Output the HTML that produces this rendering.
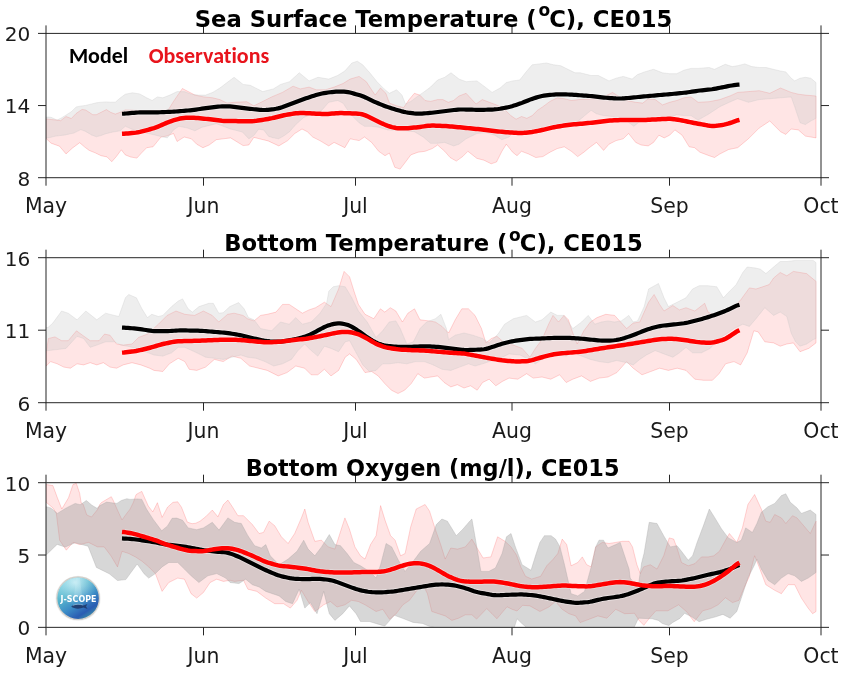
<!DOCTYPE html>
<html><head><meta charset="utf-8"><style>
html,body{margin:0;padding:0;background:#fff;}
svg{display:block;will-change:transform;}
text{font-family:"DejaVu Sans","Liberation Sans",sans-serif;}
</style></head><body>
<svg width="844" height="673" viewBox="0 0 844 673">
<rect width="844" height="673" fill="#fff"/>
<defs><clipPath id="c33"><rect x="46.0" y="33.4" width="775.0" height="144.29999999999998"/></clipPath></defs>
<g clip-path="url(#c33)">
<polygon points="46.0,118.9 46.1,118.9 51.1,119.5 57.1,120.1 60.6,120.7 66.0,116.5 71.3,118.5 76.1,113.5 82.0,109.4 85.6,110.0 89.2,112.3 92.7,114.7 96.3,114.7 101.1,112.3 106.4,109.6 110.6,112.3 115.3,114.1 120.1,112.3 125.3,109.9 137.8,110.5 155.7,110.5 168.1,110.1 173.5,101.4 182.4,88.5 194.9,95.1 203.8,96.9 212.7,97.8 219.9,99.6 227.0,103.1 234.1,102.3 246.7,101.7 253.8,105.8 261.0,102.3 271.7,96.9 282.4,92.4 293.1,86.2 300.2,88.9 309.1,87.1 316.2,89.8 325.2,89.8 334.1,87.1 343.0,83.5 350.1,79.1 359.1,76.4 366.3,81.7 371.6,89.8 375.2,95.1 380.5,88.0 385.9,93.3 389.4,103.1 396.6,105.8 403.7,107.6 409.1,99.6 414.4,93.3 419.8,95.1 425.1,100.5 430.5,101.4 437.6,99.6 442.9,99.6 448.3,102.3 453.6,100.5 459.0,96.0 466.1,93.3 476.0,104.0 482.3,99.6 489.4,102.3 496.5,104.9 503.7,108.5 510.8,115.6 516.1,119.2 521.5,116.5 526.8,118.3 532.2,115.6 537.5,110.3 542.9,106.7 550.0,101.4 557.2,97.8 564.3,98.7 571.4,100.5 578.6,99.6 594.7,98.7 605.4,96.0 612.5,92.4 619.7,96.9 626.8,100.5 635.7,102.3 642.8,103.1 648.2,98.7 655.3,99.6 662.5,104.9 669.6,102.3 676.7,100.5 683.9,97.8 691.0,96.9 698.1,102.3 709.1,101.7 719.8,99.6 730.5,95.7 737.7,92.4 748.4,91.6 759.1,90.7 769.8,93.3 780.5,88.0 791.2,92.4 798.3,94.2 805.4,95.1 816.0,96.0 816.0,137.9 805.4,136.1 798.3,129.9 791.2,129.0 785.8,134.4 780.5,131.7 769.8,121.0 759.1,128.1 748.4,138.8 737.7,147.7 728.7,149.5 719.8,154.0 714.5,157.5 709.1,155.7 699.9,152.2 694.6,147.7 689.2,146.8 682.1,135.2 674.9,129.9 669.6,135.2 664.2,137.9 658.9,135.2 653.5,142.4 648.2,145.9 641.1,145.0 635.7,142.4 628.6,133.5 623.2,138.8 616.1,140.6 609.0,144.2 603.6,150.4 596.5,142.4 589.3,147.7 583.9,152.2 577.7,156.6 571.4,151.3 564.3,146.8 557.2,148.6 550.0,152.2 542.9,156.6 535.8,157.5 528.6,154.0 521.5,151.3 517.0,155.7 512.6,152.2 506.3,144.2 501.9,151.3 496.5,162.0 491.2,163.8 484.0,160.2 476.9,158.4 467.9,151.3 462.6,156.6 456.3,161.1 450.1,157.5 444.7,151.3 437.6,145.0 432.2,148.6 425.1,151.3 418.0,152.2 410.8,154.9 405.5,162.0 400.1,169.1 394.8,167.3 389.4,153.1 385.0,155.7 378.7,151.3 371.6,142.4 364.5,137.0 359.1,140.6 350.1,138.8 344.8,147.7 334.1,142.4 328.7,145.9 319.8,140.6 312.7,137.0 307.3,131.7 302.0,129.0 294.8,133.5 287.7,140.6 278.8,145.9 268.1,140.9 259.5,138.8 253.8,137.4 248.8,145.0 243.1,145.6 230.6,137.9 223.4,138.8 216.3,139.7 209.2,145.0 202.9,147.7 196.7,144.2 191.3,138.8 184.2,137.0 177.1,141.5 173.5,133.5 166.4,136.1 161.0,137.0 153.0,146.8 146.7,147.7 141.4,153.1 136.9,158.1 130.7,157.0 125.3,154.9 121.3,149.8 116.5,156.3 111.8,161.7 107.0,156.9 101.1,155.7 95.1,152.8 89.2,150.4 84.4,146.8 79.7,142.7 72.5,148.0 66.0,153.9 59.5,146.2 51.1,143.2 46.1,138.5 46.0,138.5" fill="#ff0000" fill-opacity="0.1" stroke="#ff0000" stroke-opacity="0.16" stroke-width="1"/>
<polygon points="46.0,117.1 48.2,117.1 51.1,117.3 57.1,120.1 61.8,117.7 66.6,114.7 71.3,111.7 76.1,107.0 79.7,106.2 85.6,105.4 91.5,104.0 96.3,102.8 101.1,102.2 105.8,101.9 110.6,102.2 115.3,102.2 120.1,98.1 125.3,94.2 132.5,92.8 139.6,93.9 146.7,97.8 152.1,100.5 157.4,96.9 162.8,97.8 169.9,95.1 177.1,91.6 184.2,91.6 191.3,94.2 198.5,95.1 205.6,95.1 212.7,92.4 219.9,88.0 227.0,82.6 234.1,77.3 243.1,84.4 250.3,85.3 262.7,91.6 273.4,88.9 280.6,84.4 289.5,81.7 299.3,72.8 309.1,80.9 318.0,77.3 328.7,79.1 337.6,75.5 344.8,71.0 351.9,63.0 357.3,61.2 362.7,64.8 369.8,72.8 377.0,81.7 384.1,88.9 389.4,93.3 396.6,89.8 401.9,95.1 405.5,104.0 410.8,101.4 418.0,96.0 423.3,92.4 430.5,87.1 437.6,80.0 444.7,77.3 451.0,72.8 459.0,79.1 466.1,81.7 476.9,80.9 484.0,86.2 492.1,92.4 500.1,88.0 506.3,82.6 512.6,80.9 519.7,80.0 526.8,71.0 532.2,64.8 539.3,63.9 546.5,63.0 553.6,64.8 560.7,65.7 567.9,69.3 575.0,72.8 580.3,72.8 591.1,75.5 598.3,75.5 609.0,80.9 616.1,78.2 623.2,76.4 632.1,79.1 637.5,74.6 644.6,71.9 653.5,69.3 662.5,72.8 669.6,73.7 676.7,73.7 683.9,70.2 691.0,68.4 698.1,68.4 709.1,67.5 714.5,69.3 725.2,64.3 732.3,66.6 737.7,65.7 744.8,63.9 751.9,66.6 759.1,67.5 766.2,67.5 773.3,69.3 780.5,71.0 785.8,71.9 791.2,78.2 794.7,80.9 800.1,78.2 805.4,77.3 810.8,78.2 816.0,82.6 816.0,118.3 810.8,121.0 805.4,124.5 800.1,122.8 794.7,106.7 791.2,96.9 780.5,97.8 769.8,98.7 759.1,99.6 748.4,102.3 737.7,98.7 730.5,101.7 719.8,106.7 709.1,113.8 698.1,120.1 691.0,115.6 683.9,115.6 676.7,114.7 669.6,117.4 658.9,119.2 648.2,120.1 639.3,121.9 633.9,126.3 626.8,121.0 619.7,119.2 612.5,116.5 603.6,115.6 596.5,113.8 591.1,110.3 575.0,123.7 557.2,125.4 539.3,129.9 521.5,131.7 514.4,131.7 509.0,137.0 501.9,139.7 494.7,135.2 485.8,132.6 476.9,133.5 466.1,138.8 459.0,144.2 453.6,145.9 444.7,142.4 437.6,143.3 430.5,143.3 423.3,137.0 414.4,131.7 405.5,130.8 387.7,129.9 378.7,127.2 371.6,126.3 364.5,126.3 359.1,122.8 350.1,113.8 343.0,103.1 337.6,100.5 328.7,102.3 323.4,108.5 318.0,113.8 310.9,114.7 303.8,117.4 296.1,124.2 289.5,131.7 284.3,135.6 278.6,138.8 272.9,137.7 268.6,136.3 263.6,129.9 258.6,129.2 253.8,135.6 248.8,138.8 242.4,132.0 230.6,129.0 223.4,126.3 216.3,123.7 209.2,125.4 202.0,127.2 194.9,130.8 187.8,128.1 178.8,126.3 173.5,129.9 167.3,137.9 155.7,135.2 148.5,133.5 137.8,131.7 125.3,126.3 120.1,130.8 112.9,132.0 105.8,133.7 101.1,135.5 96.3,136.7 91.5,134.9 85.6,131.4 80.8,129.6 73.7,133.1 65.4,134.9 55.9,136.1 48.2,137.9 46.0,137.9" fill="#c8c8c8" fill-opacity="0.31" stroke="#c8c8c8" stroke-opacity="0.3" stroke-width="1"/>
<path d="M122.0,113.77 L124.0,113.66 L126.0,113.50 L128.0,113.33 L130.0,113.14 L132.0,112.96 L134.0,112.79 L136.0,112.63 L138.0,112.52 L140.0,112.46 L142.0,112.43 L144.0,112.42 L146.0,112.42 L148.0,112.42 L150.0,112.42 L152.0,112.41 L154.0,112.40 L156.0,112.36 L158.0,112.31 L160.0,112.24 L162.0,112.16 L164.0,112.08 L166.0,112.00 L168.0,111.92 L170.0,111.84 L172.0,111.74 L174.0,111.63 L176.0,111.49 L178.0,111.34 L180.0,111.18 L182.0,111.02 L184.0,110.86 L186.0,110.70 L188.0,110.53 L190.0,110.34 L192.0,110.11 L194.0,109.86 L196.0,109.57 L198.0,109.28 L200.0,108.98 L202.0,108.68 L204.0,108.39 L206.0,108.11 L208.0,107.85 L210.0,107.59 L212.0,107.34 L214.0,107.09 L216.0,106.85 L218.0,106.65 L220.0,106.50 L222.0,106.41 L224.0,106.37 L226.0,106.37 L228.0,106.40 L230.0,106.47 L232.0,106.62 L234.0,106.82 L236.0,107.05 L238.0,107.30 L240.0,107.55 L242.0,107.80 L244.0,108.06 L246.0,108.31 L248.0,108.55 L250.0,108.79 L252.0,109.01 L254.0,109.22 L256.0,109.42 L258.0,109.62 L260.0,109.81 L262.0,109.95 L264.0,110.01 L266.0,109.96 L268.0,109.80 L270.0,109.59 L272.0,109.34 L274.0,109.08 L276.0,108.77 L278.0,108.38 L280.0,107.87 L282.0,107.24 L284.0,106.53 L286.0,105.79 L288.0,105.04 L290.0,104.29 L292.0,103.54 L294.0,102.79 L296.0,102.04 L298.0,101.29 L300.0,100.54 L302.0,99.80 L304.0,99.06 L306.0,98.33 L308.0,97.64 L310.0,96.98 L312.0,96.34 L314.0,95.71 L316.0,95.09 L318.0,94.49 L320.0,93.94 L322.0,93.48 L324.0,93.10 L326.0,92.80 L328.0,92.54 L330.0,92.29 L332.0,92.05 L334.0,91.85 L336.0,91.70 L338.0,91.61 L340.0,91.57 L342.0,91.58 L344.0,91.65 L346.0,91.81 L348.0,92.12 L350.0,92.56 L352.0,93.07 L354.0,93.61 L356.0,94.17 L358.0,94.73 L360.0,95.34 L362.0,96.02 L364.0,96.81 L366.0,97.71 L368.0,98.67 L370.0,99.65 L372.0,100.61 L374.0,101.54 L376.0,102.42 L378.0,103.27 L380.0,104.10 L382.0,104.91 L384.0,105.68 L386.0,106.41 L388.0,107.11 L390.0,107.78 L392.0,108.44 L394.0,109.08 L396.0,109.69 L398.0,110.28 L400.0,110.85 L402.0,111.40 L404.0,111.89 L406.0,112.31 L408.0,112.65 L410.0,112.92 L412.0,113.15 L414.0,113.37 L416.0,113.53 L418.0,113.62 L420.0,113.62 L422.0,113.53 L424.0,113.41 L426.0,113.27 L428.0,113.11 L430.0,112.93 L432.0,112.73 L434.0,112.50 L436.0,112.26 L438.0,112.01 L440.0,111.76 L442.0,111.51 L444.0,111.26 L446.0,111.01 L448.0,110.76 L450.0,110.51 L452.0,110.26 L454.0,110.02 L456.0,109.80 L458.0,109.62 L460.0,109.52 L462.0,109.49 L464.0,109.51 L466.0,109.55 L468.0,109.59 L470.0,109.64 L472.0,109.69 L474.0,109.73 L476.0,109.78 L478.0,109.82 L480.0,109.85 L482.0,109.85 L484.0,109.82 L486.0,109.77 L488.0,109.70 L490.0,109.63 L492.0,109.54 L494.0,109.43 L496.0,109.26 L498.0,109.02 L500.0,108.71 L502.0,108.35 L504.0,107.98 L506.0,107.60 L508.0,107.19 L510.0,106.74 L512.0,106.21 L514.0,105.61 L516.0,104.97 L518.0,104.29 L520.0,103.59 L522.0,102.86 L524.0,102.07 L526.0,101.26 L528.0,100.45 L530.0,99.66 L532.0,98.92 L534.0,98.24 L536.0,97.63 L538.0,97.06 L540.0,96.53 L542.0,96.06 L544.0,95.68 L546.0,95.39 L548.0,95.16 L550.0,94.95 L552.0,94.75 L554.0,94.57 L556.0,94.43 L558.0,94.35 L560.0,94.34 L562.0,94.36 L564.0,94.40 L566.0,94.45 L568.0,94.51 L570.0,94.58 L572.0,94.68 L574.0,94.80 L576.0,94.94 L578.0,95.09 L580.0,95.24 L582.0,95.40 L584.0,95.55 L586.0,95.70 L588.0,95.86 L590.0,96.01 L592.0,96.18 L594.0,96.37 L596.0,96.58 L598.0,96.82 L600.0,97.08 L602.0,97.33 L604.0,97.57 L606.0,97.77 L608.0,97.94 L610.0,98.08 L612.0,98.21 L614.0,98.33 L616.0,98.44 L618.0,98.50 L620.0,98.51 L622.0,98.44 L624.0,98.31 L626.0,98.16 L628.0,97.99 L630.0,97.81 L632.0,97.62 L634.0,97.43 L636.0,97.23 L638.0,97.03 L640.0,96.83 L642.0,96.64 L644.0,96.44 L646.0,96.26 L648.0,96.08 L650.0,95.90 L652.0,95.72 L654.0,95.55 L656.0,95.37 L658.0,95.20 L660.0,95.02 L662.0,94.85 L664.0,94.67 L666.0,94.50 L668.0,94.32 L670.0,94.15 L672.0,93.97 L674.0,93.78 L676.0,93.59 L678.0,93.39 L680.0,93.19 L682.0,92.99 L684.0,92.78 L686.0,92.55 L688.0,92.29 L690.0,92.00 L692.0,91.68 L694.0,91.36 L696.0,91.05 L698.0,90.76 L700.0,90.51 L702.0,90.29 L704.0,90.09 L706.0,89.89 L708.0,89.69 L710.0,89.47 L712.0,89.22 L714.0,88.91 L716.0,88.56 L718.0,88.17 L720.0,87.78 L722.0,87.38 L724.0,86.98 L726.0,86.58 L728.0,86.18 L730.0,85.81 L732.0,85.46 L734.0,85.16 L736.0,84.91 L738.0,84.71 L739.5,84.60" fill="none" stroke="#fff" stroke-opacity="0.4" stroke-width="6"/>
<path d="M122.0,133.87 L124.0,133.76 L126.0,133.61 L128.0,133.44 L130.0,133.26 L132.0,133.08 L134.0,132.88 L136.0,132.64 L138.0,132.32 L140.0,131.91 L142.0,131.42 L144.0,130.90 L146.0,130.36 L148.0,129.82 L150.0,129.28 L152.0,128.71 L154.0,128.10 L156.0,127.42 L158.0,126.63 L160.0,125.78 L162.0,124.90 L164.0,124.01 L166.0,123.12 L168.0,122.28 L170.0,121.50 L172.0,120.81 L174.0,120.19 L176.0,119.61 L178.0,119.06 L180.0,118.56 L182.0,118.17 L184.0,117.93 L186.0,117.82 L188.0,117.78 L190.0,117.78 L192.0,117.79 L194.0,117.85 L196.0,117.95 L198.0,118.10 L200.0,118.28 L202.0,118.48 L204.0,118.68 L206.0,118.88 L208.0,119.10 L210.0,119.32 L212.0,119.56 L214.0,119.80 L216.0,120.05 L218.0,120.29 L220.0,120.53 L222.0,120.73 L224.0,120.88 L226.0,120.97 L228.0,121.02 L230.0,121.05 L232.0,121.08 L234.0,121.10 L236.0,121.12 L238.0,121.15 L240.0,121.17 L242.0,121.20 L244.0,121.22 L246.0,121.24 L248.0,121.26 L250.0,121.26 L252.0,121.22 L254.0,121.10 L256.0,120.89 L258.0,120.60 L260.0,120.28 L262.0,119.94 L264.0,119.60 L266.0,119.26 L268.0,118.91 L270.0,118.54 L272.0,118.14 L274.0,117.69 L276.0,117.21 L278.0,116.72 L280.0,116.22 L282.0,115.73 L284.0,115.27 L286.0,114.85 L288.0,114.49 L290.0,114.17 L292.0,113.87 L294.0,113.60 L296.0,113.36 L298.0,113.18 L300.0,113.10 L302.0,113.08 L304.0,113.12 L306.0,113.17 L308.0,113.24 L310.0,113.31 L312.0,113.40 L314.0,113.51 L316.0,113.63 L318.0,113.75 L320.0,113.87 L322.0,113.97 L324.0,114.02 L326.0,114.00 L328.0,113.91 L330.0,113.77 L332.0,113.60 L334.0,113.43 L336.0,113.28 L338.0,113.16 L340.0,113.09 L342.0,113.09 L344.0,113.14 L346.0,113.21 L348.0,113.28 L350.0,113.36 L352.0,113.43 L354.0,113.51 L356.0,113.59 L358.0,113.70 L360.0,113.88 L362.0,114.22 L364.0,114.80 L366.0,115.59 L368.0,116.52 L370.0,117.50 L372.0,118.50 L374.0,119.49 L376.0,120.49 L378.0,121.49 L380.0,122.48 L382.0,123.42 L384.0,124.30 L386.0,125.10 L388.0,125.82 L390.0,126.49 L392.0,127.09 L394.0,127.59 L396.0,127.94 L398.0,128.15 L400.0,128.26 L402.0,128.32 L404.0,128.34 L406.0,128.29 L408.0,128.17 L410.0,128.00 L412.0,127.81 L414.0,127.61 L416.0,127.40 L418.0,127.16 L420.0,126.91 L422.0,126.64 L424.0,126.36 L426.0,126.09 L428.0,125.85 L430.0,125.68 L432.0,125.60 L434.0,125.60 L436.0,125.65 L438.0,125.72 L440.0,125.80 L442.0,125.88 L444.0,125.99 L446.0,126.11 L448.0,126.27 L450.0,126.43 L452.0,126.61 L454.0,126.78 L456.0,126.96 L458.0,127.14 L460.0,127.33 L462.0,127.52 L464.0,127.72 L466.0,127.92 L468.0,128.12 L470.0,128.31 L472.0,128.51 L474.0,128.71 L476.0,128.91 L478.0,129.11 L480.0,129.32 L482.0,129.54 L484.0,129.77 L486.0,130.01 L488.0,130.25 L490.0,130.50 L492.0,130.75 L494.0,130.99 L496.0,131.22 L498.0,131.43 L500.0,131.62 L502.0,131.80 L504.0,131.97 L506.0,132.15 L508.0,132.31 L510.0,132.47 L512.0,132.60 L514.0,132.72 L516.0,132.82 L518.0,132.90 L520.0,132.94 L522.0,132.91 L524.0,132.80 L526.0,132.64 L528.0,132.44 L530.0,132.21 L532.0,131.94 L534.0,131.62 L536.0,131.26 L538.0,130.87 L540.0,130.46 L542.0,130.03 L544.0,129.58 L546.0,129.11 L548.0,128.62 L550.0,128.13 L552.0,127.67 L554.0,127.24 L556.0,126.86 L558.0,126.51 L560.0,126.18 L562.0,125.85 L564.0,125.54 L566.0,125.24 L568.0,124.97 L570.0,124.74 L572.0,124.55 L574.0,124.36 L576.0,124.19 L578.0,124.01 L580.0,123.83 L582.0,123.65 L584.0,123.46 L586.0,123.27 L588.0,123.07 L590.0,122.87 L592.0,122.66 L594.0,122.44 L596.0,122.21 L598.0,121.96 L600.0,121.70 L602.0,121.44 L604.0,121.19 L606.0,120.97 L608.0,120.78 L610.0,120.60 L612.0,120.44 L614.0,120.30 L616.0,120.19 L618.0,120.13 L620.0,120.10 L622.0,120.09 L624.0,120.09 L626.0,120.09 L628.0,120.09 L630.0,120.09 L632.0,120.09 L634.0,120.09 L636.0,120.09 L638.0,120.08 L640.0,120.08 L642.0,120.07 L644.0,120.03 L646.0,119.96 L648.0,119.86 L650.0,119.75 L652.0,119.62 L654.0,119.50 L656.0,119.38 L658.0,119.27 L660.0,119.16 L662.0,119.07 L664.0,118.98 L666.0,118.90 L668.0,118.84 L670.0,118.85 L672.0,118.94 L674.0,119.14 L676.0,119.42 L678.0,119.74 L680.0,120.10 L682.0,120.49 L684.0,120.90 L686.0,121.32 L688.0,121.75 L690.0,122.16 L692.0,122.56 L694.0,122.94 L696.0,123.31 L698.0,123.67 L700.0,124.03 L702.0,124.39 L704.0,124.75 L706.0,125.11 L708.0,125.45 L710.0,125.74 L712.0,125.92 L714.0,125.95 L716.0,125.82 L718.0,125.60 L720.0,125.32 L722.0,124.99 L724.0,124.60 L726.0,124.12 L728.0,123.58 L730.0,122.99 L732.0,122.34 L734.0,121.62 L736.0,120.88 L738.0,120.21 L739.5,119.83" fill="none" stroke="#fff" stroke-opacity="0.4" stroke-width="6"/>
<path d="M122.0,113.77 L124.0,113.66 L126.0,113.50 L128.0,113.33 L130.0,113.14 L132.0,112.96 L134.0,112.79 L136.0,112.63 L138.0,112.52 L140.0,112.46 L142.0,112.43 L144.0,112.42 L146.0,112.42 L148.0,112.42 L150.0,112.42 L152.0,112.41 L154.0,112.40 L156.0,112.36 L158.0,112.31 L160.0,112.24 L162.0,112.16 L164.0,112.08 L166.0,112.00 L168.0,111.92 L170.0,111.84 L172.0,111.74 L174.0,111.63 L176.0,111.49 L178.0,111.34 L180.0,111.18 L182.0,111.02 L184.0,110.86 L186.0,110.70 L188.0,110.53 L190.0,110.34 L192.0,110.11 L194.0,109.86 L196.0,109.57 L198.0,109.28 L200.0,108.98 L202.0,108.68 L204.0,108.39 L206.0,108.11 L208.0,107.85 L210.0,107.59 L212.0,107.34 L214.0,107.09 L216.0,106.85 L218.0,106.65 L220.0,106.50 L222.0,106.41 L224.0,106.37 L226.0,106.37 L228.0,106.40 L230.0,106.47 L232.0,106.62 L234.0,106.82 L236.0,107.05 L238.0,107.30 L240.0,107.55 L242.0,107.80 L244.0,108.06 L246.0,108.31 L248.0,108.55 L250.0,108.79 L252.0,109.01 L254.0,109.22 L256.0,109.42 L258.0,109.62 L260.0,109.81 L262.0,109.95 L264.0,110.01 L266.0,109.96 L268.0,109.80 L270.0,109.59 L272.0,109.34 L274.0,109.08 L276.0,108.77 L278.0,108.38 L280.0,107.87 L282.0,107.24 L284.0,106.53 L286.0,105.79 L288.0,105.04 L290.0,104.29 L292.0,103.54 L294.0,102.79 L296.0,102.04 L298.0,101.29 L300.0,100.54 L302.0,99.80 L304.0,99.06 L306.0,98.33 L308.0,97.64 L310.0,96.98 L312.0,96.34 L314.0,95.71 L316.0,95.09 L318.0,94.49 L320.0,93.94 L322.0,93.48 L324.0,93.10 L326.0,92.80 L328.0,92.54 L330.0,92.29 L332.0,92.05 L334.0,91.85 L336.0,91.70 L338.0,91.61 L340.0,91.57 L342.0,91.58 L344.0,91.65 L346.0,91.81 L348.0,92.12 L350.0,92.56 L352.0,93.07 L354.0,93.61 L356.0,94.17 L358.0,94.73 L360.0,95.34 L362.0,96.02 L364.0,96.81 L366.0,97.71 L368.0,98.67 L370.0,99.65 L372.0,100.61 L374.0,101.54 L376.0,102.42 L378.0,103.27 L380.0,104.10 L382.0,104.91 L384.0,105.68 L386.0,106.41 L388.0,107.11 L390.0,107.78 L392.0,108.44 L394.0,109.08 L396.0,109.69 L398.0,110.28 L400.0,110.85 L402.0,111.40 L404.0,111.89 L406.0,112.31 L408.0,112.65 L410.0,112.92 L412.0,113.15 L414.0,113.37 L416.0,113.53 L418.0,113.62 L420.0,113.62 L422.0,113.53 L424.0,113.41 L426.0,113.27 L428.0,113.11 L430.0,112.93 L432.0,112.73 L434.0,112.50 L436.0,112.26 L438.0,112.01 L440.0,111.76 L442.0,111.51 L444.0,111.26 L446.0,111.01 L448.0,110.76 L450.0,110.51 L452.0,110.26 L454.0,110.02 L456.0,109.80 L458.0,109.62 L460.0,109.52 L462.0,109.49 L464.0,109.51 L466.0,109.55 L468.0,109.59 L470.0,109.64 L472.0,109.69 L474.0,109.73 L476.0,109.78 L478.0,109.82 L480.0,109.85 L482.0,109.85 L484.0,109.82 L486.0,109.77 L488.0,109.70 L490.0,109.63 L492.0,109.54 L494.0,109.43 L496.0,109.26 L498.0,109.02 L500.0,108.71 L502.0,108.35 L504.0,107.98 L506.0,107.60 L508.0,107.19 L510.0,106.74 L512.0,106.21 L514.0,105.61 L516.0,104.97 L518.0,104.29 L520.0,103.59 L522.0,102.86 L524.0,102.07 L526.0,101.26 L528.0,100.45 L530.0,99.66 L532.0,98.92 L534.0,98.24 L536.0,97.63 L538.0,97.06 L540.0,96.53 L542.0,96.06 L544.0,95.68 L546.0,95.39 L548.0,95.16 L550.0,94.95 L552.0,94.75 L554.0,94.57 L556.0,94.43 L558.0,94.35 L560.0,94.34 L562.0,94.36 L564.0,94.40 L566.0,94.45 L568.0,94.51 L570.0,94.58 L572.0,94.68 L574.0,94.80 L576.0,94.94 L578.0,95.09 L580.0,95.24 L582.0,95.40 L584.0,95.55 L586.0,95.70 L588.0,95.86 L590.0,96.01 L592.0,96.18 L594.0,96.37 L596.0,96.58 L598.0,96.82 L600.0,97.08 L602.0,97.33 L604.0,97.57 L606.0,97.77 L608.0,97.94 L610.0,98.08 L612.0,98.21 L614.0,98.33 L616.0,98.44 L618.0,98.50 L620.0,98.51 L622.0,98.44 L624.0,98.31 L626.0,98.16 L628.0,97.99 L630.0,97.81 L632.0,97.62 L634.0,97.43 L636.0,97.23 L638.0,97.03 L640.0,96.83 L642.0,96.64 L644.0,96.44 L646.0,96.26 L648.0,96.08 L650.0,95.90 L652.0,95.72 L654.0,95.55 L656.0,95.37 L658.0,95.20 L660.0,95.02 L662.0,94.85 L664.0,94.67 L666.0,94.50 L668.0,94.32 L670.0,94.15 L672.0,93.97 L674.0,93.78 L676.0,93.59 L678.0,93.39 L680.0,93.19 L682.0,92.99 L684.0,92.78 L686.0,92.55 L688.0,92.29 L690.0,92.00 L692.0,91.68 L694.0,91.36 L696.0,91.05 L698.0,90.76 L700.0,90.51 L702.0,90.29 L704.0,90.09 L706.0,89.89 L708.0,89.69 L710.0,89.47 L712.0,89.22 L714.0,88.91 L716.0,88.56 L718.0,88.17 L720.0,87.78 L722.0,87.38 L724.0,86.98 L726.0,86.58 L728.0,86.18 L730.0,85.81 L732.0,85.46 L734.0,85.16 L736.0,84.91 L738.0,84.71 L739.5,84.60" fill="none" stroke="#000" stroke-width="4.2"/>
<path d="M122.0,133.87 L124.0,133.76 L126.0,133.61 L128.0,133.44 L130.0,133.26 L132.0,133.08 L134.0,132.88 L136.0,132.64 L138.0,132.32 L140.0,131.91 L142.0,131.42 L144.0,130.90 L146.0,130.36 L148.0,129.82 L150.0,129.28 L152.0,128.71 L154.0,128.10 L156.0,127.42 L158.0,126.63 L160.0,125.78 L162.0,124.90 L164.0,124.01 L166.0,123.12 L168.0,122.28 L170.0,121.50 L172.0,120.81 L174.0,120.19 L176.0,119.61 L178.0,119.06 L180.0,118.56 L182.0,118.17 L184.0,117.93 L186.0,117.82 L188.0,117.78 L190.0,117.78 L192.0,117.79 L194.0,117.85 L196.0,117.95 L198.0,118.10 L200.0,118.28 L202.0,118.48 L204.0,118.68 L206.0,118.88 L208.0,119.10 L210.0,119.32 L212.0,119.56 L214.0,119.80 L216.0,120.05 L218.0,120.29 L220.0,120.53 L222.0,120.73 L224.0,120.88 L226.0,120.97 L228.0,121.02 L230.0,121.05 L232.0,121.08 L234.0,121.10 L236.0,121.12 L238.0,121.15 L240.0,121.17 L242.0,121.20 L244.0,121.22 L246.0,121.24 L248.0,121.26 L250.0,121.26 L252.0,121.22 L254.0,121.10 L256.0,120.89 L258.0,120.60 L260.0,120.28 L262.0,119.94 L264.0,119.60 L266.0,119.26 L268.0,118.91 L270.0,118.54 L272.0,118.14 L274.0,117.69 L276.0,117.21 L278.0,116.72 L280.0,116.22 L282.0,115.73 L284.0,115.27 L286.0,114.85 L288.0,114.49 L290.0,114.17 L292.0,113.87 L294.0,113.60 L296.0,113.36 L298.0,113.18 L300.0,113.10 L302.0,113.08 L304.0,113.12 L306.0,113.17 L308.0,113.24 L310.0,113.31 L312.0,113.40 L314.0,113.51 L316.0,113.63 L318.0,113.75 L320.0,113.87 L322.0,113.97 L324.0,114.02 L326.0,114.00 L328.0,113.91 L330.0,113.77 L332.0,113.60 L334.0,113.43 L336.0,113.28 L338.0,113.16 L340.0,113.09 L342.0,113.09 L344.0,113.14 L346.0,113.21 L348.0,113.28 L350.0,113.36 L352.0,113.43 L354.0,113.51 L356.0,113.59 L358.0,113.70 L360.0,113.88 L362.0,114.22 L364.0,114.80 L366.0,115.59 L368.0,116.52 L370.0,117.50 L372.0,118.50 L374.0,119.49 L376.0,120.49 L378.0,121.49 L380.0,122.48 L382.0,123.42 L384.0,124.30 L386.0,125.10 L388.0,125.82 L390.0,126.49 L392.0,127.09 L394.0,127.59 L396.0,127.94 L398.0,128.15 L400.0,128.26 L402.0,128.32 L404.0,128.34 L406.0,128.29 L408.0,128.17 L410.0,128.00 L412.0,127.81 L414.0,127.61 L416.0,127.40 L418.0,127.16 L420.0,126.91 L422.0,126.64 L424.0,126.36 L426.0,126.09 L428.0,125.85 L430.0,125.68 L432.0,125.60 L434.0,125.60 L436.0,125.65 L438.0,125.72 L440.0,125.80 L442.0,125.88 L444.0,125.99 L446.0,126.11 L448.0,126.27 L450.0,126.43 L452.0,126.61 L454.0,126.78 L456.0,126.96 L458.0,127.14 L460.0,127.33 L462.0,127.52 L464.0,127.72 L466.0,127.92 L468.0,128.12 L470.0,128.31 L472.0,128.51 L474.0,128.71 L476.0,128.91 L478.0,129.11 L480.0,129.32 L482.0,129.54 L484.0,129.77 L486.0,130.01 L488.0,130.25 L490.0,130.50 L492.0,130.75 L494.0,130.99 L496.0,131.22 L498.0,131.43 L500.0,131.62 L502.0,131.80 L504.0,131.97 L506.0,132.15 L508.0,132.31 L510.0,132.47 L512.0,132.60 L514.0,132.72 L516.0,132.82 L518.0,132.90 L520.0,132.94 L522.0,132.91 L524.0,132.80 L526.0,132.64 L528.0,132.44 L530.0,132.21 L532.0,131.94 L534.0,131.62 L536.0,131.26 L538.0,130.87 L540.0,130.46 L542.0,130.03 L544.0,129.58 L546.0,129.11 L548.0,128.62 L550.0,128.13 L552.0,127.67 L554.0,127.24 L556.0,126.86 L558.0,126.51 L560.0,126.18 L562.0,125.85 L564.0,125.54 L566.0,125.24 L568.0,124.97 L570.0,124.74 L572.0,124.55 L574.0,124.36 L576.0,124.19 L578.0,124.01 L580.0,123.83 L582.0,123.65 L584.0,123.46 L586.0,123.27 L588.0,123.07 L590.0,122.87 L592.0,122.66 L594.0,122.44 L596.0,122.21 L598.0,121.96 L600.0,121.70 L602.0,121.44 L604.0,121.19 L606.0,120.97 L608.0,120.78 L610.0,120.60 L612.0,120.44 L614.0,120.30 L616.0,120.19 L618.0,120.13 L620.0,120.10 L622.0,120.09 L624.0,120.09 L626.0,120.09 L628.0,120.09 L630.0,120.09 L632.0,120.09 L634.0,120.09 L636.0,120.09 L638.0,120.08 L640.0,120.08 L642.0,120.07 L644.0,120.03 L646.0,119.96 L648.0,119.86 L650.0,119.75 L652.0,119.62 L654.0,119.50 L656.0,119.38 L658.0,119.27 L660.0,119.16 L662.0,119.07 L664.0,118.98 L666.0,118.90 L668.0,118.84 L670.0,118.85 L672.0,118.94 L674.0,119.14 L676.0,119.42 L678.0,119.74 L680.0,120.10 L682.0,120.49 L684.0,120.90 L686.0,121.32 L688.0,121.75 L690.0,122.16 L692.0,122.56 L694.0,122.94 L696.0,123.31 L698.0,123.67 L700.0,124.03 L702.0,124.39 L704.0,124.75 L706.0,125.11 L708.0,125.45 L710.0,125.74 L712.0,125.92 L714.0,125.95 L716.0,125.82 L718.0,125.60 L720.0,125.32 L722.0,124.99 L724.0,124.60 L726.0,124.12 L728.0,123.58 L730.0,122.99 L732.0,122.34 L734.0,121.62 L736.0,120.88 L738.0,120.21 L739.5,119.83" fill="none" stroke="#ff0000" stroke-width="4.5"/>
</g>
<rect x="46.0" y="33.4" width="775.0" height="144.29999999999998" fill="none" stroke="#262626" stroke-width="1"/>
<path d="M46.00,177.7v8M46.00,33.4v-8M203.50,177.7v8M203.50,33.4v-8M355.50,177.7v8M355.50,33.4v-8M512.00,177.7v8M512.00,33.4v-8M669.50,177.7v8M669.50,33.4v-8M821.00,177.7v8M821.00,33.4v-8M46.0,177.70h-8M821.0,177.70h8M46.0,105.55h-8M821.0,105.55h8M46.0,33.40h-8M821.0,33.40h8" stroke="#262626" stroke-width="1" fill="none"/>
<text x="46.0" y="212.8" font-size="20.4" text-anchor="middle" fill="#1a1a1a">May</text>
<text x="203.5" y="212.8" font-size="20.4" text-anchor="middle" fill="#1a1a1a">Jun</text>
<text x="355.5" y="212.8" font-size="20.4" text-anchor="middle" fill="#1a1a1a">Jul</text>
<text x="512.0" y="212.8" font-size="20.4" text-anchor="middle" fill="#1a1a1a">Aug</text>
<text x="669.5" y="212.8" font-size="20.4" text-anchor="middle" fill="#1a1a1a">Sep</text>
<text x="821.0" y="212.8" font-size="20.4" text-anchor="middle" fill="#1a1a1a">Oct</text>
<text x="30.3" y="185.5" font-size="20.1" text-anchor="end" fill="#1a1a1a">8</text>
<text x="30.3" y="113.3" font-size="20.1" text-anchor="end" fill="#1a1a1a">14</text>
<text x="30.3" y="41.2" font-size="20.1" text-anchor="end" fill="#1a1a1a">20</text>
<text x="433.5" y="27.0" font-size="22.7" font-weight="bold" text-anchor="middle" fill="#000">Sea Surface Temperature (<tspan dx="1.8" dy="-10.6" font-size="17">o</tspan><tspan dx="-1.0" dy="10.6">C), CE015</tspan></text>
<defs><clipPath id="c257"><rect x="46.0" y="257.7" width="775.0" height="145.0"/></clipPath></defs>
<g clip-path="url(#c257)">
<polygon points="46.0,352.8 46.2,352.8 48.4,338.5 55.0,336.9 61.6,340.7 68.2,340.7 76.5,330.8 82.5,335.2 90.2,340.7 99.0,340.7 104.5,334.1 110.0,335.2 116.6,344.0 123.2,345.1 132.0,344.0 138.6,337.4 147.4,334.1 158.4,324.2 167.2,315.4 176.0,311.0 184.8,314.3 194.6,315.4 203.4,311.0 212.2,315.4 218.8,322.0 227.6,314.3 234.2,313.2 243.0,315.4 247.4,318.7 254.0,320.9 260.6,315.4 267.2,314.3 276.0,312.1 282.6,304.4 289.2,304.4 295.8,308.8 302.4,313.2 309.0,309.9 315.6,307.7 324.4,302.2 331.0,306.6 338.6,289.0 344.1,271.4 349.6,276.9 354.0,291.2 358.4,304.4 365.0,314.3 373.8,318.7 380.4,308.8 384.8,312.1 390.3,307.7 395.8,311.0 402.4,322.0 407.9,313.2 414.5,308.8 420.0,319.8 428.8,320.9 435.4,322.0 442.0,326.4 448.6,333.0 455.2,319.8 461.8,308.8 468.4,308.8 475.0,315.4 481.5,328.6 485.9,342.9 491.4,338.5 496.9,336.3 504.6,342.9 513.4,345.1 522.2,348.4 529.9,357.2 535.4,348.4 542.0,339.6 548.6,324.2 553.0,315.4 558.5,322.0 564.0,315.4 568.4,319.8 572.8,333.0 577.2,344.0 583.8,330.8 590.4,322.0 597.0,317.6 605.8,314.3 614.6,315.4 626.6,328.6 633.2,323.1 639.8,322.0 644.2,312.1 648.6,302.2 654.1,294.5 659.6,304.4 664.0,311.0 672.8,305.5 679.4,309.9 686.0,307.7 694.8,311.0 704.7,303.3 708.0,312.1 714.6,315.4 723.4,311.0 731.8,308.8 740.6,300.0 749.4,287.9 756.0,289.0 762.6,286.8 769.2,284.6 773.6,278.0 780.2,272.5 786.8,275.8 793.4,271.4 800.0,272.5 806.6,273.6 813.2,279.1 816.0,281.3 816.0,342.9 808.8,348.4 800.0,351.7 793.4,342.9 786.8,344.0 780.2,346.2 773.6,342.9 764.8,341.8 758.2,331.9 753.8,330.8 747.2,352.8 740.6,364.9 734.0,361.6 725.6,363.8 719.0,373.7 712.4,380.3 703.6,380.3 694.8,379.2 686.0,370.4 677.2,368.2 668.4,370.4 659.6,368.2 650.8,371.5 642.0,374.8 633.2,368.2 626.6,361.6 616.8,372.6 608.0,377.0 599.2,378.1 590.4,381.4 581.6,375.9 572.8,379.2 566.2,382.5 559.6,374.8 550.8,379.2 542.0,377.0 533.2,378.1 526.6,373.7 517.8,379.2 509.0,378.1 502.4,381.4 495.8,385.8 489.2,379.2 482.6,382.5 477.2,390.2 470.6,385.8 464.0,388.0 457.4,384.7 450.8,386.9 444.2,382.5 437.6,375.9 431.0,377.0 424.4,378.1 417.8,373.7 411.2,383.6 404.6,390.2 398.0,393.5 391.4,390.2 384.8,383.6 378.2,375.9 371.6,371.5 365.0,372.6 356.2,359.4 349.6,353.9 345.2,357.2 338.6,370.4 331.0,375.9 324.4,369.3 317.8,374.8 311.2,374.8 304.6,368.2 295.8,366.0 287.0,372.6 278.2,375.9 267.2,370.4 258.4,368.2 249.6,366.0 240.8,358.3 232.0,356.1 223.2,361.6 214.4,359.4 205.6,367.1 196.8,370.4 189.2,369.3 184.8,361.6 178.2,358.3 169.4,363.8 162.8,371.5 154.0,370.4 149.6,368.2 140.8,364.9 132.0,362.7 123.2,364.9 116.6,368.2 110.0,367.1 103.4,362.7 96.8,364.9 90.2,362.7 83.6,364.9 77.0,363.8 70.4,368.2 63.8,367.1 57.2,363.8 50.6,361.6 46.2,366.0 46.0,366.0" fill="#ff0000" fill-opacity="0.1" stroke="#ff0000" stroke-opacity="0.16" stroke-width="1"/>
<polygon points="46.0,327.5 48.0,327.5 52.8,323.1 61.6,311.0 68.2,313.2 77.0,319.8 85.8,311.0 96.8,319.8 105.6,313.2 114.4,315.4 118.8,316.5 125.4,297.8 128.7,294.5 136.4,297.8 141.9,308.8 147.4,317.6 151.8,314.3 158.4,316.5 162.8,315.4 171.6,306.6 178.2,301.1 182.6,298.9 188.1,308.8 192.4,312.1 199.0,306.6 208.9,303.3 213.3,303.3 218.8,313.2 223.2,312.7 229.8,306.6 238.6,302.6 244.1,308.8 248.5,317.6 254.0,319.8 260.6,328.6 271.6,330.8 280.4,322.0 289.2,324.2 295.8,317.6 302.4,324.2 311.2,322.0 320.0,313.2 326.6,303.3 328.8,291.2 333.2,286.8 338.6,285.7 345.2,286.8 351.8,297.8 358.4,311.0 367.2,322.0 376.0,337.4 382.6,330.8 389.2,322.0 395.8,320.9 400.2,328.6 406.8,344.0 413.4,341.8 420.0,328.6 426.6,322.0 435.4,318.7 440.9,314.3 446.4,328.6 448.6,339.6 455.2,335.2 464.0,333.0 472.8,335.2 482.6,338.5 489.2,342.9 498.0,334.1 504.6,324.2 513.4,318.7 526.6,315.4 535.4,322.0 542.0,319.8 550.8,312.1 557.4,315.4 564.0,315.4 572.8,328.6 581.6,322.0 588.2,315.4 594.8,324.2 601.4,322.0 608.0,320.9 614.6,322.0 621.2,320.9 624.4,318.7 628.8,315.4 633.2,322.0 637.6,320.9 644.2,306.6 648.6,289.0 658.5,283.5 664.0,297.8 668.4,306.6 677.2,302.2 686.0,297.8 692.6,289.0 699.2,285.7 708.0,285.7 716.8,286.8 723.4,297.8 729.6,291.2 736.2,284.6 742.8,272.5 747.2,267.0 756.0,268.1 760.4,269.2 765.9,273.6 773.6,267.0 780.2,261.5 786.8,261.5 795.6,260.4 804.4,260.4 813.2,260.4 816.0,262.6 816.0,338.5 813.2,339.6 806.6,344.0 800.0,346.2 795.6,341.8 791.2,333.0 786.8,316.5 780.2,312.1 773.6,315.4 764.8,307.7 756.0,318.7 749.4,326.4 742.8,324.2 734.0,328.6 727.8,333.0 719.0,338.5 710.2,348.4 701.4,352.8 692.6,352.8 686.0,347.3 679.4,352.8 672.8,357.2 664.0,353.9 655.2,350.6 646.4,355.0 639.8,359.4 633.2,364.9 626.6,362.7 616.8,360.5 608.0,362.7 599.2,361.6 590.4,359.4 581.6,356.1 572.8,352.8 566.2,356.1 557.4,355.0 548.6,355.0 542.0,359.4 535.4,363.8 528.8,359.4 520.0,355.0 509.0,353.9 498.0,359.4 489.2,361.6 482.6,363.8 475.0,366.0 468.4,363.8 459.6,367.1 450.8,370.4 442.0,369.3 433.2,364.9 424.4,361.6 415.6,361.6 406.8,363.8 398.0,362.7 389.2,363.8 382.6,363.8 376.0,370.4 369.4,371.5 362.8,364.9 356.2,352.8 349.6,340.7 345.2,341.8 338.6,351.7 331.0,348.4 324.4,346.2 317.8,356.1 311.2,350.6 304.6,344.0 298.0,350.6 291.4,359.4 282.6,363.8 273.8,366.0 265.0,361.6 256.2,358.3 247.4,357.2 240.8,355.0 232.0,357.2 223.2,359.4 214.4,358.3 205.6,357.2 196.8,352.8 184.8,347.3 178.2,347.3 171.6,352.8 162.8,356.1 154.0,355.0 145.2,351.7 136.4,348.4 127.6,346.2 121.0,345.1 114.4,341.8 105.6,341.8 96.8,345.1 90.2,347.3 83.6,338.5 77.0,336.3 66.0,348.4 57.2,349.5 48.0,350.6 46.0,350.6" fill="#c8c8c8" fill-opacity="0.31" stroke="#c8c8c8" stroke-opacity="0.3" stroke-width="1"/>
<path d="M122.0,327.57 L124.0,327.66 L126.0,327.79 L128.0,327.94 L130.0,328.09 L132.0,328.25 L134.0,328.42 L136.0,328.62 L138.0,328.86 L140.0,329.13 L142.0,329.42 L144.0,329.72 L146.0,330.02 L148.0,330.32 L150.0,330.60 L152.0,330.85 L154.0,331.04 L156.0,331.15 L158.0,331.20 L160.0,331.21 L162.0,331.21 L164.0,331.20 L166.0,331.17 L168.0,331.10 L170.0,331.01 L172.0,330.89 L174.0,330.76 L176.0,330.63 L178.0,330.52 L180.0,330.45 L182.0,330.42 L184.0,330.43 L186.0,330.46 L188.0,330.50 L190.0,330.54 L192.0,330.58 L194.0,330.62 L196.0,330.67 L198.0,330.72 L200.0,330.79 L202.0,330.89 L204.0,331.03 L206.0,331.18 L208.0,331.34 L210.0,331.51 L212.0,331.67 L214.0,331.84 L216.0,332.01 L218.0,332.17 L220.0,332.34 L222.0,332.51 L224.0,332.69 L226.0,332.89 L228.0,333.13 L230.0,333.41 L232.0,333.72 L234.0,334.05 L236.0,334.38 L238.0,334.73 L240.0,335.11 L242.0,335.53 L244.0,336.00 L246.0,336.48 L248.0,336.98 L250.0,337.47 L252.0,337.96 L254.0,338.44 L256.0,338.90 L258.0,339.34 L260.0,339.77 L262.0,340.20 L264.0,340.60 L266.0,340.95 L268.0,341.21 L270.0,341.37 L272.0,341.48 L274.0,341.55 L276.0,341.61 L278.0,341.62 L280.0,341.55 L282.0,341.39 L284.0,341.13 L286.0,340.82 L288.0,340.49 L290.0,340.15 L292.0,339.78 L294.0,339.38 L296.0,338.93 L298.0,338.45 L300.0,337.96 L302.0,337.44 L304.0,336.89 L306.0,336.25 L308.0,335.48 L310.0,334.60 L312.0,333.63 L314.0,332.61 L316.0,331.55 L318.0,330.45 L320.0,329.33 L322.0,328.25 L324.0,327.25 L326.0,326.37 L328.0,325.59 L330.0,324.91 L332.0,324.33 L334.0,323.88 L336.0,323.59 L338.0,323.43 L340.0,323.43 L342.0,323.61 L344.0,323.97 L346.0,324.46 L348.0,325.09 L350.0,325.91 L352.0,326.92 L354.0,328.08 L356.0,329.33 L358.0,330.66 L360.0,332.05 L362.0,333.50 L364.0,334.96 L366.0,336.39 L368.0,337.77 L370.0,339.09 L372.0,340.33 L374.0,341.49 L376.0,342.52 L378.0,343.39 L380.0,344.12 L382.0,344.75 L384.0,345.27 L386.0,345.67 L388.0,345.95 L390.0,346.15 L392.0,346.33 L394.0,346.49 L396.0,346.63 L398.0,346.73 L400.0,346.79 L402.0,346.82 L404.0,346.83 L406.0,346.83 L408.0,346.82 L410.0,346.79 L412.0,346.75 L414.0,346.67 L416.0,346.58 L418.0,346.49 L420.0,346.40 L422.0,346.32 L424.0,346.29 L426.0,346.31 L428.0,346.37 L430.0,346.45 L432.0,346.55 L434.0,346.66 L436.0,346.79 L438.0,346.95 L440.0,347.14 L442.0,347.35 L444.0,347.58 L446.0,347.81 L448.0,348.05 L450.0,348.29 L452.0,348.55 L454.0,348.80 L456.0,349.07 L458.0,349.33 L460.0,349.58 L462.0,349.79 L464.0,349.93 L466.0,349.99 L468.0,349.98 L470.0,349.93 L472.0,349.87 L474.0,349.81 L476.0,349.75 L478.0,349.68 L480.0,349.60 L482.0,349.47 L484.0,349.25 L486.0,348.87 L488.0,348.36 L490.0,347.76 L492.0,347.12 L494.0,346.46 L496.0,345.79 L498.0,345.11 L500.0,344.44 L502.0,343.80 L504.0,343.20 L506.0,342.68 L508.0,342.22 L510.0,341.80 L512.0,341.40 L514.0,341.03 L516.0,340.68 L518.0,340.37 L520.0,340.09 L522.0,339.82 L524.0,339.56 L526.0,339.31 L528.0,339.10 L530.0,338.94 L532.0,338.83 L534.0,338.74 L536.0,338.67 L538.0,338.60 L540.0,338.53 L542.0,338.45 L544.0,338.36 L546.0,338.27 L548.0,338.17 L550.0,338.07 L552.0,337.98 L554.0,337.91 L556.0,337.85 L558.0,337.83 L560.0,337.82 L562.0,337.81 L564.0,337.82 L566.0,337.83 L568.0,337.87 L570.0,337.94 L572.0,338.04 L574.0,338.15 L576.0,338.28 L578.0,338.42 L580.0,338.57 L582.0,338.75 L584.0,338.94 L586.0,339.14 L588.0,339.34 L590.0,339.54 L592.0,339.74 L594.0,339.93 L596.0,340.13 L598.0,340.32 L600.0,340.47 L602.0,340.58 L604.0,340.64 L606.0,340.66 L608.0,340.65 L610.0,340.61 L612.0,340.49 L614.0,340.29 L616.0,340.00 L618.0,339.64 L620.0,339.22 L622.0,338.73 L624.0,338.15 L626.0,337.53 L628.0,336.87 L630.0,336.20 L632.0,335.50 L634.0,334.76 L636.0,333.98 L638.0,333.17 L640.0,332.34 L642.0,331.52 L644.0,330.72 L646.0,329.97 L648.0,329.29 L650.0,328.67 L652.0,328.09 L654.0,327.53 L656.0,326.98 L658.0,326.49 L660.0,326.08 L662.0,325.76 L664.0,325.51 L666.0,325.30 L668.0,325.09 L670.0,324.89 L672.0,324.68 L674.0,324.46 L676.0,324.24 L678.0,324.01 L680.0,323.77 L682.0,323.52 L684.0,323.25 L686.0,322.91 L688.0,322.51 L690.0,322.05 L692.0,321.57 L694.0,321.07 L696.0,320.56 L698.0,320.04 L700.0,319.49 L702.0,318.92 L704.0,318.33 L706.0,317.73 L708.0,317.12 L710.0,316.51 L712.0,315.86 L714.0,315.18 L716.0,314.48 L718.0,313.75 L720.0,313.02 L722.0,312.27 L724.0,311.48 L726.0,310.64 L728.0,309.73 L730.0,308.78 L732.0,307.80 L734.0,306.83 L736.0,305.91 L738.0,305.13 L739.5,304.68" fill="none" stroke="#fff" stroke-opacity="0.4" stroke-width="6"/>
<path d="M122.0,352.62 L124.0,352.47 L126.0,352.26 L128.0,352.03 L130.0,351.79 L132.0,351.53 L134.0,351.26 L136.0,350.94 L138.0,350.57 L140.0,350.14 L142.0,349.69 L144.0,349.22 L146.0,348.75 L148.0,348.26 L150.0,347.73 L152.0,347.17 L154.0,346.59 L156.0,346.00 L158.0,345.41 L160.0,344.83 L162.0,344.28 L164.0,343.79 L166.0,343.34 L168.0,342.93 L170.0,342.53 L172.0,342.14 L174.0,341.80 L176.0,341.53 L178.0,341.35 L180.0,341.25 L182.0,341.18 L184.0,341.12 L186.0,341.07 L188.0,341.02 L190.0,340.96 L192.0,340.91 L194.0,340.86 L196.0,340.81 L198.0,340.75 L200.0,340.69 L202.0,340.61 L204.0,340.52 L206.0,340.43 L208.0,340.33 L210.0,340.23 L212.0,340.14 L214.0,340.05 L216.0,339.97 L218.0,339.89 L220.0,339.83 L222.0,339.76 L224.0,339.70 L226.0,339.66 L228.0,339.65 L230.0,339.68 L232.0,339.73 L234.0,339.79 L236.0,339.86 L238.0,339.94 L240.0,340.04 L242.0,340.18 L244.0,340.35 L246.0,340.54 L248.0,340.73 L250.0,340.93 L252.0,341.13 L254.0,341.31 L256.0,341.49 L258.0,341.66 L260.0,341.83 L262.0,341.99 L264.0,342.14 L266.0,342.24 L268.0,342.28 L270.0,342.25 L272.0,342.18 L274.0,342.09 L276.0,341.98 L278.0,341.86 L280.0,341.70 L282.0,341.51 L284.0,341.27 L286.0,341.02 L288.0,340.75 L290.0,340.49 L292.0,340.24 L294.0,340.00 L296.0,339.78 L298.0,339.57 L300.0,339.37 L302.0,339.16 L304.0,338.94 L306.0,338.70 L308.0,338.41 L310.0,338.08 L312.0,337.73 L314.0,337.36 L316.0,336.99 L318.0,336.62 L320.0,336.22 L322.0,335.81 L324.0,335.39 L326.0,334.96 L328.0,334.53 L330.0,334.10 L332.0,333.67 L334.0,333.26 L336.0,332.86 L338.0,332.50 L340.0,332.20 L342.0,332.01 L344.0,331.93 L346.0,331.93 L348.0,332.02 L350.0,332.23 L352.0,332.57 L354.0,333.02 L356.0,333.57 L358.0,334.23 L360.0,335.02 L362.0,335.93 L364.0,336.91 L366.0,337.97 L368.0,339.08 L370.0,340.26 L372.0,341.46 L374.0,342.62 L376.0,343.68 L378.0,344.61 L380.0,345.43 L382.0,346.16 L384.0,346.80 L386.0,347.33 L388.0,347.76 L390.0,348.13 L392.0,348.47 L394.0,348.79 L396.0,349.09 L398.0,349.33 L400.0,349.52 L402.0,349.65 L404.0,349.77 L406.0,349.87 L408.0,349.97 L410.0,350.06 L412.0,350.14 L414.0,350.22 L416.0,350.29 L418.0,350.36 L420.0,350.43 L422.0,350.51 L424.0,350.61 L426.0,350.73 L428.0,350.88 L430.0,351.04 L432.0,351.20 L434.0,351.37 L436.0,351.54 L438.0,351.70 L440.0,351.87 L442.0,352.04 L444.0,352.20 L446.0,352.37 L448.0,352.53 L450.0,352.68 L452.0,352.81 L454.0,352.92 L456.0,353.03 L458.0,353.13 L460.0,353.25 L462.0,353.39 L464.0,353.60 L466.0,353.88 L468.0,354.22 L470.0,354.59 L472.0,354.97 L474.0,355.35 L476.0,355.74 L478.0,356.12 L480.0,356.50 L482.0,356.89 L484.0,357.27 L486.0,357.65 L488.0,358.02 L490.0,358.38 L492.0,358.73 L494.0,359.06 L496.0,359.40 L498.0,359.72 L500.0,360.04 L502.0,360.32 L504.0,360.55 L506.0,360.75 L508.0,360.93 L510.0,361.09 L512.0,361.25 L514.0,361.37 L516.0,361.43 L518.0,361.44 L520.0,361.41 L522.0,361.35 L524.0,361.26 L526.0,361.14 L528.0,360.92 L530.0,360.58 L532.0,360.10 L534.0,359.55 L536.0,358.96 L538.0,358.37 L540.0,357.78 L542.0,357.22 L544.0,356.68 L546.0,356.17 L548.0,355.66 L550.0,355.17 L552.0,354.70 L554.0,354.28 L556.0,353.94 L558.0,353.68 L560.0,353.48 L562.0,353.30 L564.0,353.13 L566.0,352.96 L568.0,352.80 L570.0,352.63 L572.0,352.46 L574.0,352.30 L576.0,352.13 L578.0,351.95 L580.0,351.75 L582.0,351.51 L584.0,351.23 L586.0,350.92 L588.0,350.59 L590.0,350.26 L592.0,349.93 L594.0,349.59 L596.0,349.26 L598.0,348.93 L600.0,348.59 L602.0,348.26 L604.0,347.93 L606.0,347.61 L608.0,347.29 L610.0,346.99 L612.0,346.71 L614.0,346.42 L616.0,346.14 L618.0,345.85 L620.0,345.56 L622.0,345.26 L624.0,344.95 L626.0,344.64 L628.0,344.33 L630.0,344.02 L632.0,343.71 L634.0,343.39 L636.0,343.06 L638.0,342.73 L640.0,342.40 L642.0,342.06 L644.0,341.73 L646.0,341.40 L648.0,341.06 L650.0,340.73 L652.0,340.40 L654.0,340.07 L656.0,339.75 L658.0,339.47 L660.0,339.25 L662.0,339.10 L664.0,339.00 L666.0,338.92 L668.0,338.86 L670.0,338.83 L672.0,338.85 L674.0,338.94 L676.0,339.10 L678.0,339.31 L680.0,339.54 L682.0,339.77 L684.0,340.02 L686.0,340.29 L688.0,340.59 L690.0,340.91 L692.0,341.24 L694.0,341.56 L696.0,341.87 L698.0,342.14 L700.0,342.35 L702.0,342.49 L704.0,342.58 L706.0,342.65 L708.0,342.69 L710.0,342.68 L712.0,342.53 L714.0,342.23 L716.0,341.79 L718.0,341.26 L720.0,340.69 L722.0,340.07 L724.0,339.34 L726.0,338.42 L728.0,337.29 L730.0,336.01 L732.0,334.65 L734.0,333.29 L736.0,332.00 L738.0,330.90 L739.5,330.27" fill="none" stroke="#fff" stroke-opacity="0.4" stroke-width="6"/>
<path d="M122.0,327.57 L124.0,327.66 L126.0,327.79 L128.0,327.94 L130.0,328.09 L132.0,328.25 L134.0,328.42 L136.0,328.62 L138.0,328.86 L140.0,329.13 L142.0,329.42 L144.0,329.72 L146.0,330.02 L148.0,330.32 L150.0,330.60 L152.0,330.85 L154.0,331.04 L156.0,331.15 L158.0,331.20 L160.0,331.21 L162.0,331.21 L164.0,331.20 L166.0,331.17 L168.0,331.10 L170.0,331.01 L172.0,330.89 L174.0,330.76 L176.0,330.63 L178.0,330.52 L180.0,330.45 L182.0,330.42 L184.0,330.43 L186.0,330.46 L188.0,330.50 L190.0,330.54 L192.0,330.58 L194.0,330.62 L196.0,330.67 L198.0,330.72 L200.0,330.79 L202.0,330.89 L204.0,331.03 L206.0,331.18 L208.0,331.34 L210.0,331.51 L212.0,331.67 L214.0,331.84 L216.0,332.01 L218.0,332.17 L220.0,332.34 L222.0,332.51 L224.0,332.69 L226.0,332.89 L228.0,333.13 L230.0,333.41 L232.0,333.72 L234.0,334.05 L236.0,334.38 L238.0,334.73 L240.0,335.11 L242.0,335.53 L244.0,336.00 L246.0,336.48 L248.0,336.98 L250.0,337.47 L252.0,337.96 L254.0,338.44 L256.0,338.90 L258.0,339.34 L260.0,339.77 L262.0,340.20 L264.0,340.60 L266.0,340.95 L268.0,341.21 L270.0,341.37 L272.0,341.48 L274.0,341.55 L276.0,341.61 L278.0,341.62 L280.0,341.55 L282.0,341.39 L284.0,341.13 L286.0,340.82 L288.0,340.49 L290.0,340.15 L292.0,339.78 L294.0,339.38 L296.0,338.93 L298.0,338.45 L300.0,337.96 L302.0,337.44 L304.0,336.89 L306.0,336.25 L308.0,335.48 L310.0,334.60 L312.0,333.63 L314.0,332.61 L316.0,331.55 L318.0,330.45 L320.0,329.33 L322.0,328.25 L324.0,327.25 L326.0,326.37 L328.0,325.59 L330.0,324.91 L332.0,324.33 L334.0,323.88 L336.0,323.59 L338.0,323.43 L340.0,323.43 L342.0,323.61 L344.0,323.97 L346.0,324.46 L348.0,325.09 L350.0,325.91 L352.0,326.92 L354.0,328.08 L356.0,329.33 L358.0,330.66 L360.0,332.05 L362.0,333.50 L364.0,334.96 L366.0,336.39 L368.0,337.77 L370.0,339.09 L372.0,340.33 L374.0,341.49 L376.0,342.52 L378.0,343.39 L380.0,344.12 L382.0,344.75 L384.0,345.27 L386.0,345.67 L388.0,345.95 L390.0,346.15 L392.0,346.33 L394.0,346.49 L396.0,346.63 L398.0,346.73 L400.0,346.79 L402.0,346.82 L404.0,346.83 L406.0,346.83 L408.0,346.82 L410.0,346.79 L412.0,346.75 L414.0,346.67 L416.0,346.58 L418.0,346.49 L420.0,346.40 L422.0,346.32 L424.0,346.29 L426.0,346.31 L428.0,346.37 L430.0,346.45 L432.0,346.55 L434.0,346.66 L436.0,346.79 L438.0,346.95 L440.0,347.14 L442.0,347.35 L444.0,347.58 L446.0,347.81 L448.0,348.05 L450.0,348.29 L452.0,348.55 L454.0,348.80 L456.0,349.07 L458.0,349.33 L460.0,349.58 L462.0,349.79 L464.0,349.93 L466.0,349.99 L468.0,349.98 L470.0,349.93 L472.0,349.87 L474.0,349.81 L476.0,349.75 L478.0,349.68 L480.0,349.60 L482.0,349.47 L484.0,349.25 L486.0,348.87 L488.0,348.36 L490.0,347.76 L492.0,347.12 L494.0,346.46 L496.0,345.79 L498.0,345.11 L500.0,344.44 L502.0,343.80 L504.0,343.20 L506.0,342.68 L508.0,342.22 L510.0,341.80 L512.0,341.40 L514.0,341.03 L516.0,340.68 L518.0,340.37 L520.0,340.09 L522.0,339.82 L524.0,339.56 L526.0,339.31 L528.0,339.10 L530.0,338.94 L532.0,338.83 L534.0,338.74 L536.0,338.67 L538.0,338.60 L540.0,338.53 L542.0,338.45 L544.0,338.36 L546.0,338.27 L548.0,338.17 L550.0,338.07 L552.0,337.98 L554.0,337.91 L556.0,337.85 L558.0,337.83 L560.0,337.82 L562.0,337.81 L564.0,337.82 L566.0,337.83 L568.0,337.87 L570.0,337.94 L572.0,338.04 L574.0,338.15 L576.0,338.28 L578.0,338.42 L580.0,338.57 L582.0,338.75 L584.0,338.94 L586.0,339.14 L588.0,339.34 L590.0,339.54 L592.0,339.74 L594.0,339.93 L596.0,340.13 L598.0,340.32 L600.0,340.47 L602.0,340.58 L604.0,340.64 L606.0,340.66 L608.0,340.65 L610.0,340.61 L612.0,340.49 L614.0,340.29 L616.0,340.00 L618.0,339.64 L620.0,339.22 L622.0,338.73 L624.0,338.15 L626.0,337.53 L628.0,336.87 L630.0,336.20 L632.0,335.50 L634.0,334.76 L636.0,333.98 L638.0,333.17 L640.0,332.34 L642.0,331.52 L644.0,330.72 L646.0,329.97 L648.0,329.29 L650.0,328.67 L652.0,328.09 L654.0,327.53 L656.0,326.98 L658.0,326.49 L660.0,326.08 L662.0,325.76 L664.0,325.51 L666.0,325.30 L668.0,325.09 L670.0,324.89 L672.0,324.68 L674.0,324.46 L676.0,324.24 L678.0,324.01 L680.0,323.77 L682.0,323.52 L684.0,323.25 L686.0,322.91 L688.0,322.51 L690.0,322.05 L692.0,321.57 L694.0,321.07 L696.0,320.56 L698.0,320.04 L700.0,319.49 L702.0,318.92 L704.0,318.33 L706.0,317.73 L708.0,317.12 L710.0,316.51 L712.0,315.86 L714.0,315.18 L716.0,314.48 L718.0,313.75 L720.0,313.02 L722.0,312.27 L724.0,311.48 L726.0,310.64 L728.0,309.73 L730.0,308.78 L732.0,307.80 L734.0,306.83 L736.0,305.91 L738.0,305.13 L739.5,304.68" fill="none" stroke="#000" stroke-width="4.2"/>
<path d="M122.0,352.62 L124.0,352.47 L126.0,352.26 L128.0,352.03 L130.0,351.79 L132.0,351.53 L134.0,351.26 L136.0,350.94 L138.0,350.57 L140.0,350.14 L142.0,349.69 L144.0,349.22 L146.0,348.75 L148.0,348.26 L150.0,347.73 L152.0,347.17 L154.0,346.59 L156.0,346.00 L158.0,345.41 L160.0,344.83 L162.0,344.28 L164.0,343.79 L166.0,343.34 L168.0,342.93 L170.0,342.53 L172.0,342.14 L174.0,341.80 L176.0,341.53 L178.0,341.35 L180.0,341.25 L182.0,341.18 L184.0,341.12 L186.0,341.07 L188.0,341.02 L190.0,340.96 L192.0,340.91 L194.0,340.86 L196.0,340.81 L198.0,340.75 L200.0,340.69 L202.0,340.61 L204.0,340.52 L206.0,340.43 L208.0,340.33 L210.0,340.23 L212.0,340.14 L214.0,340.05 L216.0,339.97 L218.0,339.89 L220.0,339.83 L222.0,339.76 L224.0,339.70 L226.0,339.66 L228.0,339.65 L230.0,339.68 L232.0,339.73 L234.0,339.79 L236.0,339.86 L238.0,339.94 L240.0,340.04 L242.0,340.18 L244.0,340.35 L246.0,340.54 L248.0,340.73 L250.0,340.93 L252.0,341.13 L254.0,341.31 L256.0,341.49 L258.0,341.66 L260.0,341.83 L262.0,341.99 L264.0,342.14 L266.0,342.24 L268.0,342.28 L270.0,342.25 L272.0,342.18 L274.0,342.09 L276.0,341.98 L278.0,341.86 L280.0,341.70 L282.0,341.51 L284.0,341.27 L286.0,341.02 L288.0,340.75 L290.0,340.49 L292.0,340.24 L294.0,340.00 L296.0,339.78 L298.0,339.57 L300.0,339.37 L302.0,339.16 L304.0,338.94 L306.0,338.70 L308.0,338.41 L310.0,338.08 L312.0,337.73 L314.0,337.36 L316.0,336.99 L318.0,336.62 L320.0,336.22 L322.0,335.81 L324.0,335.39 L326.0,334.96 L328.0,334.53 L330.0,334.10 L332.0,333.67 L334.0,333.26 L336.0,332.86 L338.0,332.50 L340.0,332.20 L342.0,332.01 L344.0,331.93 L346.0,331.93 L348.0,332.02 L350.0,332.23 L352.0,332.57 L354.0,333.02 L356.0,333.57 L358.0,334.23 L360.0,335.02 L362.0,335.93 L364.0,336.91 L366.0,337.97 L368.0,339.08 L370.0,340.26 L372.0,341.46 L374.0,342.62 L376.0,343.68 L378.0,344.61 L380.0,345.43 L382.0,346.16 L384.0,346.80 L386.0,347.33 L388.0,347.76 L390.0,348.13 L392.0,348.47 L394.0,348.79 L396.0,349.09 L398.0,349.33 L400.0,349.52 L402.0,349.65 L404.0,349.77 L406.0,349.87 L408.0,349.97 L410.0,350.06 L412.0,350.14 L414.0,350.22 L416.0,350.29 L418.0,350.36 L420.0,350.43 L422.0,350.51 L424.0,350.61 L426.0,350.73 L428.0,350.88 L430.0,351.04 L432.0,351.20 L434.0,351.37 L436.0,351.54 L438.0,351.70 L440.0,351.87 L442.0,352.04 L444.0,352.20 L446.0,352.37 L448.0,352.53 L450.0,352.68 L452.0,352.81 L454.0,352.92 L456.0,353.03 L458.0,353.13 L460.0,353.25 L462.0,353.39 L464.0,353.60 L466.0,353.88 L468.0,354.22 L470.0,354.59 L472.0,354.97 L474.0,355.35 L476.0,355.74 L478.0,356.12 L480.0,356.50 L482.0,356.89 L484.0,357.27 L486.0,357.65 L488.0,358.02 L490.0,358.38 L492.0,358.73 L494.0,359.06 L496.0,359.40 L498.0,359.72 L500.0,360.04 L502.0,360.32 L504.0,360.55 L506.0,360.75 L508.0,360.93 L510.0,361.09 L512.0,361.25 L514.0,361.37 L516.0,361.43 L518.0,361.44 L520.0,361.41 L522.0,361.35 L524.0,361.26 L526.0,361.14 L528.0,360.92 L530.0,360.58 L532.0,360.10 L534.0,359.55 L536.0,358.96 L538.0,358.37 L540.0,357.78 L542.0,357.22 L544.0,356.68 L546.0,356.17 L548.0,355.66 L550.0,355.17 L552.0,354.70 L554.0,354.28 L556.0,353.94 L558.0,353.68 L560.0,353.48 L562.0,353.30 L564.0,353.13 L566.0,352.96 L568.0,352.80 L570.0,352.63 L572.0,352.46 L574.0,352.30 L576.0,352.13 L578.0,351.95 L580.0,351.75 L582.0,351.51 L584.0,351.23 L586.0,350.92 L588.0,350.59 L590.0,350.26 L592.0,349.93 L594.0,349.59 L596.0,349.26 L598.0,348.93 L600.0,348.59 L602.0,348.26 L604.0,347.93 L606.0,347.61 L608.0,347.29 L610.0,346.99 L612.0,346.71 L614.0,346.42 L616.0,346.14 L618.0,345.85 L620.0,345.56 L622.0,345.26 L624.0,344.95 L626.0,344.64 L628.0,344.33 L630.0,344.02 L632.0,343.71 L634.0,343.39 L636.0,343.06 L638.0,342.73 L640.0,342.40 L642.0,342.06 L644.0,341.73 L646.0,341.40 L648.0,341.06 L650.0,340.73 L652.0,340.40 L654.0,340.07 L656.0,339.75 L658.0,339.47 L660.0,339.25 L662.0,339.10 L664.0,339.00 L666.0,338.92 L668.0,338.86 L670.0,338.83 L672.0,338.85 L674.0,338.94 L676.0,339.10 L678.0,339.31 L680.0,339.54 L682.0,339.77 L684.0,340.02 L686.0,340.29 L688.0,340.59 L690.0,340.91 L692.0,341.24 L694.0,341.56 L696.0,341.87 L698.0,342.14 L700.0,342.35 L702.0,342.49 L704.0,342.58 L706.0,342.65 L708.0,342.69 L710.0,342.68 L712.0,342.53 L714.0,342.23 L716.0,341.79 L718.0,341.26 L720.0,340.69 L722.0,340.07 L724.0,339.34 L726.0,338.42 L728.0,337.29 L730.0,336.01 L732.0,334.65 L734.0,333.29 L736.0,332.00 L738.0,330.90 L739.5,330.27" fill="none" stroke="#ff0000" stroke-width="4.5"/>
</g>
<rect x="46.0" y="257.7" width="775.0" height="145.0" fill="none" stroke="#262626" stroke-width="1"/>
<path d="M46.00,402.7v8M46.00,257.7v-8M203.50,402.7v8M203.50,257.7v-8M355.50,402.7v8M355.50,257.7v-8M512.00,402.7v8M512.00,257.7v-8M669.50,402.7v8M669.50,257.7v-8M821.00,402.7v8M821.00,257.7v-8M46.0,402.70h-8M821.0,402.70h8M46.0,330.20h-8M821.0,330.20h8M46.0,257.70h-8M821.0,257.70h8" stroke="#262626" stroke-width="1" fill="none"/>
<text x="46.0" y="437.8" font-size="20.4" text-anchor="middle" fill="#1a1a1a">May</text>
<text x="203.5" y="437.8" font-size="20.4" text-anchor="middle" fill="#1a1a1a">Jun</text>
<text x="355.5" y="437.8" font-size="20.4" text-anchor="middle" fill="#1a1a1a">Jul</text>
<text x="512.0" y="437.8" font-size="20.4" text-anchor="middle" fill="#1a1a1a">Aug</text>
<text x="669.5" y="437.8" font-size="20.4" text-anchor="middle" fill="#1a1a1a">Sep</text>
<text x="821.0" y="437.8" font-size="20.4" text-anchor="middle" fill="#1a1a1a">Oct</text>
<text x="30.3" y="410.5" font-size="20.1" text-anchor="end" fill="#1a1a1a">6</text>
<text x="30.3" y="338.0" font-size="20.1" text-anchor="end" fill="#1a1a1a">11</text>
<text x="30.3" y="265.5" font-size="20.1" text-anchor="end" fill="#1a1a1a">16</text>
<text x="433.5" y="251.3" font-size="22.7" font-weight="bold" text-anchor="middle" fill="#000">Bottom Temperature (<tspan dx="1.8" dy="-10.6" font-size="17">o</tspan><tspan dx="-1.0" dy="10.6">C), CE015</tspan></text>
<defs><clipPath id="c482"><rect x="46.0" y="482.7" width="775.0" height="144.65000000000003"/></clipPath></defs>
<g clip-path="url(#c482)">
<polygon points="46.0,484.5 46.2,484.5 52.9,485.6 57.4,497.8 61.8,509.0 68.5,497.8 73.0,484.5 76.3,483.3 79.7,493.4 81.2,503.0 83.2,504.3 86.8,515.0 91.5,517.0 97.5,509.6 99.9,504.3 101.5,502.5 111.3,496.7 113.3,500.5 114.9,504.3 118.9,513.2 122.0,519.9 126.9,513.2 130.0,509.2 133.4,502.3 136.0,494.7 138.0,493.4 141.8,491.4 144.5,497.6 148.3,506.1 152.8,511.9 157.4,502.7 162.1,517.4 167.5,507.2 173.0,502.3 177.7,501.8 181.5,507.2 187.3,522.1 192.0,523.7 195.8,523.2 200.0,521.2 205.6,516.8 212.3,510.1 217.9,516.8 223.4,504.5 227.9,500.1 232.3,506.7 237.9,515.7 243.5,515.7 252.4,524.6 259.1,533.5 263.5,532.4 269.1,521.2 274.7,525.7 281.4,536.8 288.1,543.5 294.7,533.5 301.4,517.9 304.8,509.0 308.1,522.3 314.8,541.3 321.5,540.2 328.2,546.9 334.9,549.1 344.9,517.9 349.4,529.0 354.9,546.9 360.5,555.8 365.0,559.1 370.5,544.6 376.1,535.7 380.6,505.6 385.0,520.1 390.6,535.7 395.1,540.2 400.6,555.8 405.1,553.5 410.7,526.8 416.2,509.0 425.1,504.5 429.6,511.2 435.2,529.0 440.7,544.6 445.2,559.1 450.8,548.0 457.5,549.1 465.3,546.9 471.9,539.1 476.4,546.9 483.1,558.0 490.9,556.9 497.6,536.8 505.0,541.3 511.0,546.9 516.5,555.1 521.0,567.4 525.5,576.3 531.7,579.0 540.6,576.3 546.9,565.6 553.1,559.3 557.8,553.5 562.2,539.1 566.7,544.6 571.1,565.8 577.8,562.5 582.3,556.9 586.7,564.7 591.2,566.9 595.7,546.9 602.3,542.4 609.0,543.5 615.7,542.4 622.4,541.3 629.1,541.3 632.5,546.9 636.9,564.7 640.3,573.6 643.6,566.9 650.3,564.7 657.0,569.1 663.7,555.8 669.2,537.9 673.7,539.1 677.0,548.0 681.5,562.5 688.2,565.8 694.9,563.6 701.5,556.9 708.2,556.9 713.8,555.8 719.4,551.3 726.1,539.1 729.4,533.5 736.8,542.4 742.4,527.9 747.9,504.5 754.6,494.5 761.3,509.0 765.8,521.2 770.2,522.3 774.7,514.5 781.4,517.9 785.8,523.5 792.5,515.7 797.0,517.9 803.7,525.7 810.3,533.5 816.0,521.2 816.0,611.5 812.6,613.7 808.1,608.1 801.4,598.1 794.7,584.7 788.1,584.7 781.4,593.7 774.7,590.3 765.8,584.7 759.1,566.9 754.6,555.8 749.1,576.9 743.5,589.2 739.0,600.3 732.5,602.6 725.4,597.7 718.0,604.8 710.9,608.6 702.7,610.8 694.2,621.7 687.1,612.2 678.6,604.8 667.9,610.8 655.9,610.8 650.3,617.1 643.8,625.3 639.1,620.4 634.5,613.3 624.6,613.7 615.7,609.3 606.8,618.2 597.9,615.9 589.0,619.3 580.1,622.6 575.6,615.9 568.9,613.7 562.2,609.3 555.5,601.5 548.9,607.0 539.9,611.5 529.9,605.9 522.6,605.3 517.0,611.0 512.1,609.3 507.0,606.8 502.1,612.6 496.9,618.8 492.0,613.7 486.7,608.6 476.6,619.1 471.9,614.8 465.3,614.8 458.6,618.2 451.9,620.4 445.2,615.9 438.5,613.7 431.8,611.5 427.4,593.7 422.9,584.7 416.2,591.4 409.5,600.3 402.9,604.8 396.2,613.7 389.5,619.3 382.8,609.3 376.1,611.5 365.0,604.8 358.3,601.5 351.6,600.3 344.9,604.8 337.1,607.0 330.4,601.5 323.7,604.8 314.8,611.5 308.1,601.5 301.4,590.3 297.0,600.3 290.3,608.1 283.6,603.7 274.7,603.7 265.8,598.1 256.9,591.4 247.9,589.2 243.5,580.3 234.6,581.4 230.1,580.3 223.4,581.4 216.7,579.2 210.1,582.5 203.4,592.5 196.7,598.1 191.1,593.7 184.4,579.2 177.7,578.1 168.8,582.5 162.1,591.4 155.4,573.6 148.7,566.9 142.1,561.3 135.4,556.9 128.7,553.5 122.0,551.3 117.5,566.9 110.9,555.8 104.2,546.9 97.5,546.9 88.6,542.4 79.7,544.6 73.0,542.4 66.3,550.2 59.6,540.2 56.3,513.4 52.9,507.9 46.2,502.3 46.0,502.3" fill="#ff0000" fill-opacity="0.1" stroke="#ff0000" stroke-opacity="0.16" stroke-width="1"/>
<polygon points="46.0,506.7 46.2,506.7 50.7,507.9 57.4,513.4 66.3,507.9 75.2,503.4 80.1,504.7 82.8,503.0 86.3,500.5 91.9,505.2 97.0,508.3 99.9,505.6 106.6,502.1 113.3,503.0 116.9,503.4 121.3,500.5 126.9,498.7 130.0,499.4 137.6,498.9 141.8,499.4 146.5,509.0 153.2,519.4 161.7,530.8 167.5,525.9 172.1,518.3 176.8,518.1 182.6,520.3 188.2,527.9 196.7,529.7 200.0,528.8 203.4,527.9 212.3,522.3 219.0,530.1 227.9,517.9 234.6,522.3 241.3,523.5 247.9,535.7 254.6,545.7 261.3,548.0 265.8,544.6 270.2,555.8 279.1,564.7 288.1,559.1 297.0,551.3 303.7,540.2 308.1,549.1 314.8,555.8 321.5,546.9 329.3,534.6 334.9,544.6 340.5,545.7 347.1,553.5 353.8,562.5 360.5,565.8 369.4,571.4 376.1,578.1 380.6,564.7 386.1,543.5 391.7,546.9 398.4,560.2 405.1,571.4 414.0,560.2 420.7,551.3 429.6,543.5 436.3,524.6 441.9,519.0 447.4,521.2 456.3,535.7 463.0,529.0 469.7,521.2 471.9,519.0 476.4,544.6 480.9,571.4 488.7,571.4 495.4,568.0 502.1,553.5 506.5,536.8 511.0,533.5 515.4,546.9 522.1,564.7 531.0,570.3 535.5,555.8 539.9,542.4 544.4,535.7 551.1,535.7 555.5,539.1 560.0,546.9 564.5,564.7 571.1,593.7 577.8,595.9 584.5,591.4 591.2,566.9 595.7,546.9 599.0,540.2 603.5,540.2 607.9,548.0 615.7,544.6 620.2,542.4 626.0,560.0 629.1,569.1 630.2,578.1 638.0,588.1 641.6,562.9 644.0,553.5 649.2,522.3 657.0,523.5 663.7,535.7 670.3,546.9 677.0,545.7 681.5,551.3 688.2,560.2 692.6,555.8 697.1,542.4 703.8,524.6 709.3,509.0 714.9,517.9 721.6,529.0 728.3,537.9 736.8,542.4 741.3,540.2 745.7,527.9 752.4,532.4 756.9,523.5 761.3,512.3 768.0,506.7 774.7,503.4 781.4,495.6 785.8,493.8 790.3,502.3 797.0,507.9 801.4,513.4 810.3,510.1 816.0,514.5 816.0,572.5 808.1,578.1 801.4,581.4 794.7,575.8 788.1,573.6 781.4,578.1 774.7,584.7 768.0,580.3 761.3,569.1 756.9,559.1 754.6,564.7 747.9,578.1 741.3,598.1 736.8,611.5 730.1,618.2 722.9,614.4 715.8,616.8 706.2,619.3 699.1,621.7 691.7,616.8 684.6,613.3 679.9,618.4 672.8,622.4 668.8,625.5 662.3,623.5 658.3,620.4 652.1,618.8 638.5,618.2 634.0,627.5 615.7,627.5 593.4,627.5 571.1,627.5 548.9,627.5 526.6,627.5 522.1,623.7 517.0,618.8 514.3,627.5 508.7,628.2 499.8,628.2 490.9,628.2 478.6,628.2 469.7,627.5 451.9,627.5 434.1,627.5 428.5,626.0 422.7,623.5 413.1,622.4 403.8,618.8 394.4,615.3 384.8,626.0 380.6,624.9 369.4,621.5 360.5,621.5 356.1,613.7 349.4,605.9 342.7,613.7 334.9,620.4 329.3,613.7 323.7,591.4 317.0,613.7 310.3,602.6 304.8,608.1 299.2,589.2 292.5,603.7 285.8,601.5 279.1,595.9 272.5,593.7 265.8,591.4 259.1,587.0 252.4,584.7 245.7,579.2 239.0,583.6 230.1,582.5 225.7,578.1 216.7,573.6 207.8,575.8 198.9,582.5 191.1,575.8 184.4,569.1 177.7,562.5 168.8,562.5 162.1,566.9 155.4,573.6 148.7,578.1 144.1,573.8 137.2,564.0 125.8,579.6 117.5,580.5 109.3,573.8 96.4,567.4 88.1,546.2 75.0,542.8 65.2,547.1 57.1,544.4 46.2,555.1 46.0,555.1" fill="#a0a0a0" fill-opacity="0.42" stroke="#a0a0a0" stroke-opacity="0.3" stroke-width="1"/>
<path d="M122.0,538.46 L124.0,538.54 L126.0,538.64 L128.0,538.76 L130.0,538.89 L132.0,539.05 L134.0,539.24 L136.0,539.48 L138.0,539.74 L140.0,540.02 L142.0,540.31 L144.0,540.60 L146.0,540.90 L148.0,541.22 L150.0,541.54 L152.0,541.86 L154.0,542.20 L156.0,542.55 L158.0,542.93 L160.0,543.32 L162.0,543.71 L164.0,544.08 L166.0,544.42 L168.0,544.71 L170.0,544.95 L172.0,545.17 L174.0,545.38 L176.0,545.59 L178.0,545.83 L180.0,546.08 L182.0,546.35 L184.0,546.63 L186.0,546.92 L188.0,547.23 L190.0,547.58 L192.0,547.95 L194.0,548.33 L196.0,548.73 L198.0,549.13 L200.0,549.51 L202.0,549.88 L204.0,550.20 L206.0,550.48 L208.0,550.74 L210.0,550.97 L212.0,551.21 L214.0,551.43 L216.0,551.63 L218.0,551.80 L220.0,551.95 L222.0,552.09 L224.0,552.24 L226.0,552.48 L228.0,552.86 L230.0,553.42 L232.0,554.12 L234.0,554.89 L236.0,555.70 L238.0,556.55 L240.0,557.45 L242.0,558.40 L244.0,559.38 L246.0,560.37 L248.0,561.37 L250.0,562.37 L252.0,563.37 L254.0,564.37 L256.0,565.37 L258.0,566.37 L260.0,567.37 L262.0,568.36 L264.0,569.33 L266.0,570.26 L268.0,571.15 L270.0,572.01 L272.0,572.85 L274.0,573.68 L276.0,574.48 L278.0,575.21 L280.0,575.85 L282.0,576.40 L284.0,576.87 L286.0,577.31 L288.0,577.73 L290.0,578.12 L292.0,578.44 L294.0,578.67 L296.0,578.81 L298.0,578.90 L300.0,578.98 L302.0,579.04 L304.0,579.08 L306.0,579.10 L308.0,579.08 L310.0,579.03 L312.0,578.97 L314.0,578.91 L316.0,578.87 L318.0,578.87 L320.0,578.95 L322.0,579.09 L324.0,579.29 L326.0,579.52 L328.0,579.77 L330.0,580.07 L332.0,580.46 L334.0,580.98 L336.0,581.63 L338.0,582.36 L340.0,583.12 L342.0,583.89 L344.0,584.65 L346.0,585.41 L348.0,586.15 L350.0,586.88 L352.0,587.61 L354.0,588.31 L356.0,588.99 L358.0,589.60 L360.0,590.13 L362.0,590.59 L364.0,591.00 L366.0,591.38 L368.0,591.72 L370.0,591.98 L372.0,592.15 L374.0,592.27 L376.0,592.35 L378.0,592.40 L380.0,592.41 L382.0,592.35 L384.0,592.24 L386.0,592.09 L388.0,591.93 L390.0,591.75 L392.0,591.56 L394.0,591.33 L396.0,591.05 L398.0,590.75 L400.0,590.42 L402.0,590.09 L404.0,589.76 L406.0,589.42 L408.0,589.09 L410.0,588.76 L412.0,588.42 L414.0,588.09 L416.0,587.76 L418.0,587.42 L420.0,587.09 L422.0,586.76 L424.0,586.42 L426.0,586.09 L428.0,585.76 L430.0,585.44 L432.0,585.14 L434.0,584.89 L436.0,584.71 L438.0,584.57 L440.0,584.49 L442.0,584.45 L444.0,584.48 L446.0,584.58 L448.0,584.71 L450.0,584.89 L452.0,585.10 L454.0,585.39 L456.0,585.77 L458.0,586.23 L460.0,586.73 L462.0,587.26 L464.0,587.83 L466.0,588.44 L468.0,589.10 L470.0,589.80 L472.0,590.50 L474.0,591.17 L476.0,591.77 L478.0,592.28 L480.0,592.70 L482.0,593.08 L484.0,593.44 L486.0,593.79 L488.0,594.14 L490.0,594.49 L492.0,594.81 L494.0,595.06 L496.0,595.21 L498.0,595.24 L500.0,595.20 L502.0,595.11 L504.0,595.01 L506.0,594.92 L508.0,594.83 L510.0,594.75 L512.0,594.67 L514.0,594.60 L516.0,594.54 L518.0,594.48 L520.0,594.45 L522.0,594.47 L524.0,594.54 L526.0,594.67 L528.0,594.82 L530.0,594.99 L532.0,595.18 L534.0,595.39 L536.0,595.66 L538.0,595.99 L540.0,596.36 L542.0,596.75 L544.0,597.15 L546.0,597.55 L548.0,597.96 L550.0,598.38 L552.0,598.80 L554.0,599.23 L556.0,599.66 L558.0,600.09 L560.0,600.51 L562.0,600.89 L564.0,601.25 L566.0,601.57 L568.0,601.88 L570.0,602.17 L572.0,602.45 L574.0,602.66 L576.0,602.78 L578.0,602.78 L580.0,602.71 L582.0,602.59 L584.0,602.45 L586.0,602.28 L588.0,602.05 L590.0,601.74 L592.0,601.33 L594.0,600.86 L596.0,600.37 L598.0,599.89 L600.0,599.42 L602.0,598.99 L604.0,598.63 L606.0,598.32 L608.0,598.04 L610.0,597.77 L612.0,597.49 L614.0,597.21 L616.0,596.91 L618.0,596.59 L620.0,596.24 L622.0,595.84 L624.0,595.38 L626.0,594.81 L628.0,594.15 L630.0,593.44 L632.0,592.70 L634.0,591.95 L636.0,591.20 L638.0,590.44 L640.0,589.66 L642.0,588.83 L644.0,587.95 L646.0,587.04 L648.0,586.11 L650.0,585.20 L652.0,584.35 L654.0,583.61 L656.0,583.05 L658.0,582.66 L660.0,582.37 L662.0,582.12 L664.0,581.89 L666.0,581.68 L668.0,581.49 L670.0,581.34 L672.0,581.22 L674.0,581.11 L676.0,581.00 L678.0,580.88 L680.0,580.72 L682.0,580.49 L684.0,580.18 L686.0,579.82 L688.0,579.43 L690.0,579.03 L692.0,578.62 L694.0,578.19 L696.0,577.74 L698.0,577.26 L700.0,576.77 L702.0,576.28 L704.0,575.78 L706.0,575.29 L708.0,574.81 L710.0,574.35 L712.0,573.91 L714.0,573.47 L716.0,573.03 L718.0,572.58 L720.0,572.10 L722.0,571.56 L724.0,570.96 L726.0,570.31 L728.0,569.63 L730.0,568.91 L732.0,568.12 L734.0,567.25 L736.0,566.34 L738.0,565.52 L739.5,565.04" fill="none" stroke="#fff" stroke-opacity="0.4" stroke-width="6"/>
<path d="M122.0,531.90 L124.0,532.10 L126.0,532.37 L128.0,532.68 L130.0,533.02 L132.0,533.40 L134.0,533.86 L136.0,534.38 L138.0,534.95 L140.0,535.55 L142.0,536.14 L144.0,536.74 L146.0,537.34 L148.0,537.94 L150.0,538.55 L152.0,539.16 L154.0,539.81 L156.0,540.49 L158.0,541.23 L160.0,542.01 L162.0,542.79 L164.0,543.57 L166.0,544.31 L168.0,545.00 L170.0,545.64 L172.0,546.25 L174.0,546.85 L176.0,547.44 L178.0,548.00 L180.0,548.55 L182.0,549.08 L184.0,549.59 L186.0,550.06 L188.0,550.46 L190.0,550.74 L192.0,550.92 L194.0,551.02 L196.0,551.09 L198.0,551.14 L200.0,551.17 L202.0,551.13 L204.0,550.98 L206.0,550.72 L208.0,550.37 L210.0,549.99 L212.0,549.60 L214.0,549.23 L216.0,548.91 L218.0,548.66 L220.0,548.48 L222.0,548.34 L224.0,548.24 L226.0,548.21 L228.0,548.29 L230.0,548.51 L232.0,548.83 L234.0,549.22 L236.0,549.65 L238.0,550.16 L240.0,550.77 L242.0,551.50 L244.0,552.29 L246.0,553.11 L248.0,553.95 L250.0,554.79 L252.0,555.66 L254.0,556.55 L256.0,557.46 L258.0,558.39 L260.0,559.31 L262.0,560.23 L264.0,561.09 L266.0,561.88 L268.0,562.57 L270.0,563.19 L272.0,563.77 L274.0,564.33 L276.0,564.87 L278.0,565.34 L280.0,565.71 L282.0,565.99 L284.0,566.19 L286.0,566.37 L288.0,566.55 L290.0,566.72 L292.0,566.92 L294.0,567.15 L296.0,567.39 L298.0,567.65 L300.0,567.92 L302.0,568.19 L304.0,568.48 L306.0,568.80 L308.0,569.15 L310.0,569.53 L312.0,569.92 L314.0,570.32 L316.0,570.70 L318.0,571.04 L320.0,571.34 L322.0,571.57 L324.0,571.76 L326.0,571.93 L328.0,572.10 L330.0,572.24 L332.0,572.36 L334.0,572.44 L336.0,572.47 L338.0,572.49 L340.0,572.49 L342.0,572.49 L344.0,572.49 L346.0,572.48 L348.0,572.47 L350.0,572.44 L352.0,572.39 L354.0,572.33 L356.0,572.27 L358.0,572.20 L360.0,572.14 L362.0,572.10 L364.0,572.07 L366.0,572.05 L368.0,572.04 L370.0,572.04 L372.0,572.03 L374.0,572.00 L376.0,571.93 L378.0,571.81 L380.0,571.64 L382.0,571.44 L384.0,571.20 L386.0,570.88 L388.0,570.44 L390.0,569.87 L392.0,569.20 L394.0,568.51 L396.0,567.80 L398.0,567.12 L400.0,566.47 L402.0,565.85 L404.0,565.25 L406.0,564.68 L408.0,564.17 L410.0,563.76 L412.0,563.47 L414.0,563.29 L416.0,563.19 L418.0,563.21 L420.0,563.38 L422.0,563.68 L424.0,564.08 L426.0,564.61 L428.0,565.28 L430.0,566.10 L432.0,567.04 L434.0,568.04 L436.0,569.11 L438.0,570.23 L440.0,571.39 L442.0,572.57 L444.0,573.74 L446.0,574.87 L448.0,575.93 L450.0,576.91 L452.0,577.82 L454.0,578.69 L456.0,579.49 L458.0,580.17 L460.0,580.67 L462.0,581.01 L464.0,581.26 L466.0,581.46 L468.0,581.62 L470.0,581.72 L472.0,581.76 L474.0,581.76 L476.0,581.74 L478.0,581.71 L480.0,581.67 L482.0,581.64 L484.0,581.60 L486.0,581.57 L488.0,581.53 L490.0,581.51 L492.0,581.50 L494.0,581.54 L496.0,581.68 L498.0,581.90 L500.0,582.19 L502.0,582.51 L504.0,582.85 L506.0,583.19 L508.0,583.55 L510.0,583.94 L512.0,584.35 L514.0,584.77 L516.0,585.20 L518.0,585.62 L520.0,586.01 L522.0,586.33 L524.0,586.58 L526.0,586.77 L528.0,586.92 L530.0,587.05 L532.0,587.16 L534.0,587.24 L536.0,587.26 L538.0,587.21 L540.0,587.11 L542.0,586.99 L544.0,586.85 L546.0,586.72 L548.0,586.57 L550.0,586.42 L552.0,586.26 L554.0,586.10 L556.0,585.94 L558.0,585.78 L560.0,585.65 L562.0,585.58 L564.0,585.57 L566.0,585.62 L568.0,585.71 L570.0,585.80 L572.0,585.90 L574.0,585.99 L576.0,586.08 L578.0,586.16 L580.0,586.23 L582.0,586.30 L584.0,586.35 L586.0,586.38 L588.0,586.34 L590.0,586.21 L592.0,585.98 L594.0,585.68 L596.0,585.36 L598.0,585.03 L600.0,584.69 L602.0,584.36 L604.0,584.03 L606.0,583.69 L608.0,583.36 L610.0,583.03 L612.0,582.72 L614.0,582.45 L616.0,582.25 L618.0,582.14 L620.0,582.10 L622.0,582.13 L624.0,582.24 L626.0,582.45 L628.0,582.74 L630.0,583.08 L632.0,583.45 L634.0,583.82 L636.0,584.19 L638.0,584.55 L640.0,584.88 L642.0,585.18 L644.0,585.43 L646.0,585.65 L648.0,585.85 L650.0,586.04 L652.0,586.21 L654.0,586.33 L656.0,586.37 L658.0,586.34 L660.0,586.26 L662.0,586.17 L664.0,586.08 L666.0,586.01 L668.0,585.98 L670.0,586.00 L672.0,586.07 L674.0,586.16 L676.0,586.26 L678.0,586.35 L680.0,586.45 L682.0,586.53 L684.0,586.61 L686.0,586.68 L688.0,586.74 L690.0,586.80 L692.0,586.82 L694.0,586.76 L696.0,586.58 L698.0,586.29 L700.0,585.93 L702.0,585.51 L704.0,585.01 L706.0,584.39 L708.0,583.61 L710.0,582.71 L712.0,581.73 L714.0,580.70 L716.0,579.61 L718.0,578.41 L720.0,577.12 L722.0,575.76 L724.0,574.36 L726.0,572.91 L728.0,571.40 L730.0,569.79 L732.0,568.12 L734.0,566.43 L736.0,564.81 L738.0,563.43 L739.5,562.65" fill="none" stroke="#fff" stroke-opacity="0.4" stroke-width="6"/>
<path d="M122.0,538.46 L124.0,538.54 L126.0,538.64 L128.0,538.76 L130.0,538.89 L132.0,539.05 L134.0,539.24 L136.0,539.48 L138.0,539.74 L140.0,540.02 L142.0,540.31 L144.0,540.60 L146.0,540.90 L148.0,541.22 L150.0,541.54 L152.0,541.86 L154.0,542.20 L156.0,542.55 L158.0,542.93 L160.0,543.32 L162.0,543.71 L164.0,544.08 L166.0,544.42 L168.0,544.71 L170.0,544.95 L172.0,545.17 L174.0,545.38 L176.0,545.59 L178.0,545.83 L180.0,546.08 L182.0,546.35 L184.0,546.63 L186.0,546.92 L188.0,547.23 L190.0,547.58 L192.0,547.95 L194.0,548.33 L196.0,548.73 L198.0,549.13 L200.0,549.51 L202.0,549.88 L204.0,550.20 L206.0,550.48 L208.0,550.74 L210.0,550.97 L212.0,551.21 L214.0,551.43 L216.0,551.63 L218.0,551.80 L220.0,551.95 L222.0,552.09 L224.0,552.24 L226.0,552.48 L228.0,552.86 L230.0,553.42 L232.0,554.12 L234.0,554.89 L236.0,555.70 L238.0,556.55 L240.0,557.45 L242.0,558.40 L244.0,559.38 L246.0,560.37 L248.0,561.37 L250.0,562.37 L252.0,563.37 L254.0,564.37 L256.0,565.37 L258.0,566.37 L260.0,567.37 L262.0,568.36 L264.0,569.33 L266.0,570.26 L268.0,571.15 L270.0,572.01 L272.0,572.85 L274.0,573.68 L276.0,574.48 L278.0,575.21 L280.0,575.85 L282.0,576.40 L284.0,576.87 L286.0,577.31 L288.0,577.73 L290.0,578.12 L292.0,578.44 L294.0,578.67 L296.0,578.81 L298.0,578.90 L300.0,578.98 L302.0,579.04 L304.0,579.08 L306.0,579.10 L308.0,579.08 L310.0,579.03 L312.0,578.97 L314.0,578.91 L316.0,578.87 L318.0,578.87 L320.0,578.95 L322.0,579.09 L324.0,579.29 L326.0,579.52 L328.0,579.77 L330.0,580.07 L332.0,580.46 L334.0,580.98 L336.0,581.63 L338.0,582.36 L340.0,583.12 L342.0,583.89 L344.0,584.65 L346.0,585.41 L348.0,586.15 L350.0,586.88 L352.0,587.61 L354.0,588.31 L356.0,588.99 L358.0,589.60 L360.0,590.13 L362.0,590.59 L364.0,591.00 L366.0,591.38 L368.0,591.72 L370.0,591.98 L372.0,592.15 L374.0,592.27 L376.0,592.35 L378.0,592.40 L380.0,592.41 L382.0,592.35 L384.0,592.24 L386.0,592.09 L388.0,591.93 L390.0,591.75 L392.0,591.56 L394.0,591.33 L396.0,591.05 L398.0,590.75 L400.0,590.42 L402.0,590.09 L404.0,589.76 L406.0,589.42 L408.0,589.09 L410.0,588.76 L412.0,588.42 L414.0,588.09 L416.0,587.76 L418.0,587.42 L420.0,587.09 L422.0,586.76 L424.0,586.42 L426.0,586.09 L428.0,585.76 L430.0,585.44 L432.0,585.14 L434.0,584.89 L436.0,584.71 L438.0,584.57 L440.0,584.49 L442.0,584.45 L444.0,584.48 L446.0,584.58 L448.0,584.71 L450.0,584.89 L452.0,585.10 L454.0,585.39 L456.0,585.77 L458.0,586.23 L460.0,586.73 L462.0,587.26 L464.0,587.83 L466.0,588.44 L468.0,589.10 L470.0,589.80 L472.0,590.50 L474.0,591.17 L476.0,591.77 L478.0,592.28 L480.0,592.70 L482.0,593.08 L484.0,593.44 L486.0,593.79 L488.0,594.14 L490.0,594.49 L492.0,594.81 L494.0,595.06 L496.0,595.21 L498.0,595.24 L500.0,595.20 L502.0,595.11 L504.0,595.01 L506.0,594.92 L508.0,594.83 L510.0,594.75 L512.0,594.67 L514.0,594.60 L516.0,594.54 L518.0,594.48 L520.0,594.45 L522.0,594.47 L524.0,594.54 L526.0,594.67 L528.0,594.82 L530.0,594.99 L532.0,595.18 L534.0,595.39 L536.0,595.66 L538.0,595.99 L540.0,596.36 L542.0,596.75 L544.0,597.15 L546.0,597.55 L548.0,597.96 L550.0,598.38 L552.0,598.80 L554.0,599.23 L556.0,599.66 L558.0,600.09 L560.0,600.51 L562.0,600.89 L564.0,601.25 L566.0,601.57 L568.0,601.88 L570.0,602.17 L572.0,602.45 L574.0,602.66 L576.0,602.78 L578.0,602.78 L580.0,602.71 L582.0,602.59 L584.0,602.45 L586.0,602.28 L588.0,602.05 L590.0,601.74 L592.0,601.33 L594.0,600.86 L596.0,600.37 L598.0,599.89 L600.0,599.42 L602.0,598.99 L604.0,598.63 L606.0,598.32 L608.0,598.04 L610.0,597.77 L612.0,597.49 L614.0,597.21 L616.0,596.91 L618.0,596.59 L620.0,596.24 L622.0,595.84 L624.0,595.38 L626.0,594.81 L628.0,594.15 L630.0,593.44 L632.0,592.70 L634.0,591.95 L636.0,591.20 L638.0,590.44 L640.0,589.66 L642.0,588.83 L644.0,587.95 L646.0,587.04 L648.0,586.11 L650.0,585.20 L652.0,584.35 L654.0,583.61 L656.0,583.05 L658.0,582.66 L660.0,582.37 L662.0,582.12 L664.0,581.89 L666.0,581.68 L668.0,581.49 L670.0,581.34 L672.0,581.22 L674.0,581.11 L676.0,581.00 L678.0,580.88 L680.0,580.72 L682.0,580.49 L684.0,580.18 L686.0,579.82 L688.0,579.43 L690.0,579.03 L692.0,578.62 L694.0,578.19 L696.0,577.74 L698.0,577.26 L700.0,576.77 L702.0,576.28 L704.0,575.78 L706.0,575.29 L708.0,574.81 L710.0,574.35 L712.0,573.91 L714.0,573.47 L716.0,573.03 L718.0,572.58 L720.0,572.10 L722.0,571.56 L724.0,570.96 L726.0,570.31 L728.0,569.63 L730.0,568.91 L732.0,568.12 L734.0,567.25 L736.0,566.34 L738.0,565.52 L739.5,565.04" fill="none" stroke="#000" stroke-width="4.2"/>
<path d="M122.0,531.90 L124.0,532.10 L126.0,532.37 L128.0,532.68 L130.0,533.02 L132.0,533.40 L134.0,533.86 L136.0,534.38 L138.0,534.95 L140.0,535.55 L142.0,536.14 L144.0,536.74 L146.0,537.34 L148.0,537.94 L150.0,538.55 L152.0,539.16 L154.0,539.81 L156.0,540.49 L158.0,541.23 L160.0,542.01 L162.0,542.79 L164.0,543.57 L166.0,544.31 L168.0,545.00 L170.0,545.64 L172.0,546.25 L174.0,546.85 L176.0,547.44 L178.0,548.00 L180.0,548.55 L182.0,549.08 L184.0,549.59 L186.0,550.06 L188.0,550.46 L190.0,550.74 L192.0,550.92 L194.0,551.02 L196.0,551.09 L198.0,551.14 L200.0,551.17 L202.0,551.13 L204.0,550.98 L206.0,550.72 L208.0,550.37 L210.0,549.99 L212.0,549.60 L214.0,549.23 L216.0,548.91 L218.0,548.66 L220.0,548.48 L222.0,548.34 L224.0,548.24 L226.0,548.21 L228.0,548.29 L230.0,548.51 L232.0,548.83 L234.0,549.22 L236.0,549.65 L238.0,550.16 L240.0,550.77 L242.0,551.50 L244.0,552.29 L246.0,553.11 L248.0,553.95 L250.0,554.79 L252.0,555.66 L254.0,556.55 L256.0,557.46 L258.0,558.39 L260.0,559.31 L262.0,560.23 L264.0,561.09 L266.0,561.88 L268.0,562.57 L270.0,563.19 L272.0,563.77 L274.0,564.33 L276.0,564.87 L278.0,565.34 L280.0,565.71 L282.0,565.99 L284.0,566.19 L286.0,566.37 L288.0,566.55 L290.0,566.72 L292.0,566.92 L294.0,567.15 L296.0,567.39 L298.0,567.65 L300.0,567.92 L302.0,568.19 L304.0,568.48 L306.0,568.80 L308.0,569.15 L310.0,569.53 L312.0,569.92 L314.0,570.32 L316.0,570.70 L318.0,571.04 L320.0,571.34 L322.0,571.57 L324.0,571.76 L326.0,571.93 L328.0,572.10 L330.0,572.24 L332.0,572.36 L334.0,572.44 L336.0,572.47 L338.0,572.49 L340.0,572.49 L342.0,572.49 L344.0,572.49 L346.0,572.48 L348.0,572.47 L350.0,572.44 L352.0,572.39 L354.0,572.33 L356.0,572.27 L358.0,572.20 L360.0,572.14 L362.0,572.10 L364.0,572.07 L366.0,572.05 L368.0,572.04 L370.0,572.04 L372.0,572.03 L374.0,572.00 L376.0,571.93 L378.0,571.81 L380.0,571.64 L382.0,571.44 L384.0,571.20 L386.0,570.88 L388.0,570.44 L390.0,569.87 L392.0,569.20 L394.0,568.51 L396.0,567.80 L398.0,567.12 L400.0,566.47 L402.0,565.85 L404.0,565.25 L406.0,564.68 L408.0,564.17 L410.0,563.76 L412.0,563.47 L414.0,563.29 L416.0,563.19 L418.0,563.21 L420.0,563.38 L422.0,563.68 L424.0,564.08 L426.0,564.61 L428.0,565.28 L430.0,566.10 L432.0,567.04 L434.0,568.04 L436.0,569.11 L438.0,570.23 L440.0,571.39 L442.0,572.57 L444.0,573.74 L446.0,574.87 L448.0,575.93 L450.0,576.91 L452.0,577.82 L454.0,578.69 L456.0,579.49 L458.0,580.17 L460.0,580.67 L462.0,581.01 L464.0,581.26 L466.0,581.46 L468.0,581.62 L470.0,581.72 L472.0,581.76 L474.0,581.76 L476.0,581.74 L478.0,581.71 L480.0,581.67 L482.0,581.64 L484.0,581.60 L486.0,581.57 L488.0,581.53 L490.0,581.51 L492.0,581.50 L494.0,581.54 L496.0,581.68 L498.0,581.90 L500.0,582.19 L502.0,582.51 L504.0,582.85 L506.0,583.19 L508.0,583.55 L510.0,583.94 L512.0,584.35 L514.0,584.77 L516.0,585.20 L518.0,585.62 L520.0,586.01 L522.0,586.33 L524.0,586.58 L526.0,586.77 L528.0,586.92 L530.0,587.05 L532.0,587.16 L534.0,587.24 L536.0,587.26 L538.0,587.21 L540.0,587.11 L542.0,586.99 L544.0,586.85 L546.0,586.72 L548.0,586.57 L550.0,586.42 L552.0,586.26 L554.0,586.10 L556.0,585.94 L558.0,585.78 L560.0,585.65 L562.0,585.58 L564.0,585.57 L566.0,585.62 L568.0,585.71 L570.0,585.80 L572.0,585.90 L574.0,585.99 L576.0,586.08 L578.0,586.16 L580.0,586.23 L582.0,586.30 L584.0,586.35 L586.0,586.38 L588.0,586.34 L590.0,586.21 L592.0,585.98 L594.0,585.68 L596.0,585.36 L598.0,585.03 L600.0,584.69 L602.0,584.36 L604.0,584.03 L606.0,583.69 L608.0,583.36 L610.0,583.03 L612.0,582.72 L614.0,582.45 L616.0,582.25 L618.0,582.14 L620.0,582.10 L622.0,582.13 L624.0,582.24 L626.0,582.45 L628.0,582.74 L630.0,583.08 L632.0,583.45 L634.0,583.82 L636.0,584.19 L638.0,584.55 L640.0,584.88 L642.0,585.18 L644.0,585.43 L646.0,585.65 L648.0,585.85 L650.0,586.04 L652.0,586.21 L654.0,586.33 L656.0,586.37 L658.0,586.34 L660.0,586.26 L662.0,586.17 L664.0,586.08 L666.0,586.01 L668.0,585.98 L670.0,586.00 L672.0,586.07 L674.0,586.16 L676.0,586.26 L678.0,586.35 L680.0,586.45 L682.0,586.53 L684.0,586.61 L686.0,586.68 L688.0,586.74 L690.0,586.80 L692.0,586.82 L694.0,586.76 L696.0,586.58 L698.0,586.29 L700.0,585.93 L702.0,585.51 L704.0,585.01 L706.0,584.39 L708.0,583.61 L710.0,582.71 L712.0,581.73 L714.0,580.70 L716.0,579.61 L718.0,578.41 L720.0,577.12 L722.0,575.76 L724.0,574.36 L726.0,572.91 L728.0,571.40 L730.0,569.79 L732.0,568.12 L734.0,566.43 L736.0,564.81 L738.0,563.43 L739.5,562.65" fill="none" stroke="#ff0000" stroke-width="4.5"/>
</g>
<rect x="46.0" y="482.7" width="775.0" height="144.65000000000003" fill="none" stroke="#262626" stroke-width="1"/>
<path d="M46.00,627.35v8M46.00,482.7v-8M203.50,627.35v8M203.50,482.7v-8M355.50,627.35v8M355.50,482.7v-8M512.00,627.35v8M512.00,482.7v-8M669.50,627.35v8M669.50,482.7v-8M821.00,627.35v8M821.00,482.7v-8M46.0,627.35h-8M821.0,627.35h8M46.0,555.02h-8M821.0,555.02h8M46.0,482.70h-8M821.0,482.70h8" stroke="#262626" stroke-width="1" fill="none"/>
<text x="46.0" y="662.5" font-size="20.4" text-anchor="middle" fill="#1a1a1a">May</text>
<text x="203.5" y="662.5" font-size="20.4" text-anchor="middle" fill="#1a1a1a">Jun</text>
<text x="355.5" y="662.5" font-size="20.4" text-anchor="middle" fill="#1a1a1a">Jul</text>
<text x="512.0" y="662.5" font-size="20.4" text-anchor="middle" fill="#1a1a1a">Aug</text>
<text x="669.5" y="662.5" font-size="20.4" text-anchor="middle" fill="#1a1a1a">Sep</text>
<text x="821.0" y="662.5" font-size="20.4" text-anchor="middle" fill="#1a1a1a">Oct</text>
<text x="30.3" y="635.1" font-size="20.1" text-anchor="end" fill="#1a1a1a">0</text>
<text x="30.3" y="562.8" font-size="20.1" text-anchor="end" fill="#1a1a1a">5</text>
<text x="30.3" y="490.5" font-size="20.1" text-anchor="end" fill="#1a1a1a">10</text>
<text x="432.6" y="476.3" font-size="22.4" font-weight="bold" text-anchor="middle" fill="#000">Bottom Oxygen (mg/l), CE015</text>
<text x="68.9" y="62.6" font-weight="bold" font-size="22" fill="#000" textLength="59.3" lengthAdjust="spacingAndGlyphs" style="font-family:Carlito,'Liberation Sans',sans-serif;font-variant-ligatures:none">Model</text>
<text x="148.7" y="62.5" font-weight="bold" font-size="22" fill="#e8141c" textLength="120.5" lengthAdjust="spacingAndGlyphs" style="font-family:Carlito,'Liberation Sans',sans-serif;font-variant-ligatures:none">Observations</text>
<defs>
<linearGradient id="lgv" x1="0.15" y1="0.05" x2="0.75" y2="0.95">
<stop offset="0" stop-color="#80d4e2"/><stop offset="0.35" stop-color="#56b4cc"/><stop offset="0.62" stop-color="#3c8cc6"/><stop offset="0.86" stop-color="#2a5cb2"/><stop offset="1" stop-color="#3a8aa8"/></linearGradient>
<radialGradient id="lgr" cx="0.42" cy="0.12" r="0.55"><stop offset="0" stop-color="#e8fbff" stop-opacity="0.75"/><stop offset="1" stop-color="#bfeaf5" stop-opacity="0"/></radialGradient>
<linearGradient id="lgs" x1="0" y1="0" x2="1" y2="0"><stop offset="0" stop-color="#2a88c0" stop-opacity="0"/><stop offset="1" stop-color="#1f4fb0" stop-opacity="0.3"/></linearGradient>
</defs>
<circle cx="78.1" cy="598.4" r="22.6" fill="#e6e6e6" opacity="0.6"/>
<circle cx="78.1" cy="598.2" r="21.3" fill="url(#lgv)" stroke="#d3cfc9" stroke-width="1.1"/>
<circle cx="78.1" cy="598.2" r="20.8" fill="url(#lgr)"/>
<path d="M76,578 L80,578 L82,596 L74,596 Z" fill="#e6fbff" opacity="0.18"/>
<text x="60.6" y="601.6" font-size="9.3" textLength="35.8" lengthAdjust="spacingAndGlyphs" fill="#fff" style="font-family:'DejaVu Sans','Liberation Sans',sans-serif;font-weight:bold">J-SCOPE</text>
<path d="M71.2,606.6 C73.5,604.4 79,603.8 83.6,605.6 L87.4,603.9 L86,606.6 L87.6,609 L83.6,607.6 C79.5,609.2 74,609 71.2,606.6 Z" fill="#1d3566" opacity="0.85"/>
<path d="M73,605.4 C76,603.9 80,604 83,605" stroke="#cfe8f0" stroke-width="0.7" fill="none" opacity="0.6"/>
</svg></body></html>
